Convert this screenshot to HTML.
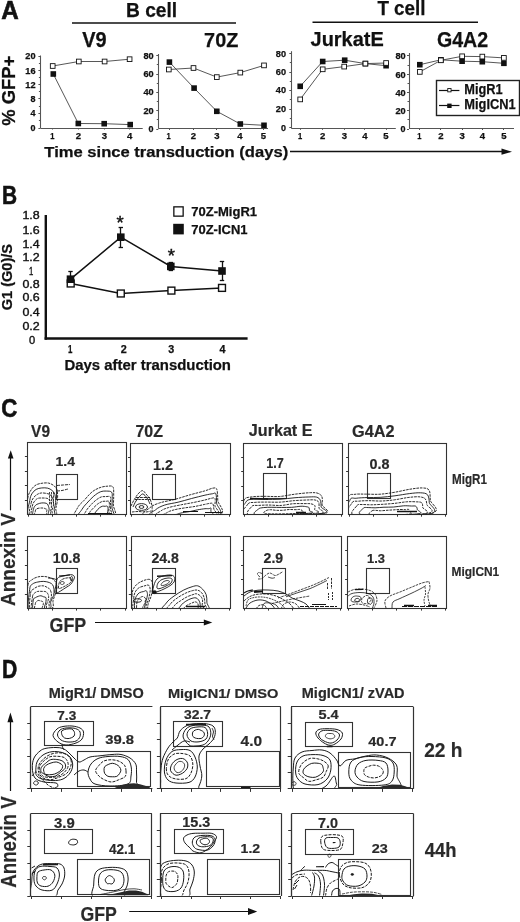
<!DOCTYPE html>
<html><head><meta charset="utf-8"><style>
html,body{margin:0;padding:0;background:#fff;}
svg{display:block;filter:blur(0.3px);}
text{font-family:"Liberation Sans",sans-serif;}
</style></head><body>
<svg width="520" height="922" viewBox="0 0 520 922">
<rect width="520" height="922" fill="#fff"/>
<text x="1.30" y="19.30" font-size="25.00" font-weight="bold" fill="#111" textLength="17.50" lengthAdjust="spacingAndGlyphs" stroke="#111" stroke-width="0.6">A</text>
<text x="126.00" y="16.80" font-size="20.49" font-weight="bold" fill="#111" textLength="51.20" lengthAdjust="spacingAndGlyphs" stroke="#111" stroke-width="0.25">B cell</text>
<line x1="72.00" y1="23.00" x2="236.00" y2="23.00" stroke="#111" stroke-width="1.6"/>
<text x="377.40" y="14.80" font-size="20.35" font-weight="bold" fill="#111" textLength="48.09" lengthAdjust="spacingAndGlyphs" stroke="#111" stroke-width="0.25">T cell</text>
<line x1="312.50" y1="22.30" x2="478.00" y2="22.30" stroke="#111" stroke-width="1.6"/>
<text x="82.20" y="46.80" font-size="21.22" font-weight="bold" fill="#111" textLength="24.40" lengthAdjust="spacingAndGlyphs" stroke="#111" stroke-width="0.25">V9</text>
<text x="204.10" y="46.60" font-size="20.77" font-weight="bold" fill="#111" textLength="34.20" lengthAdjust="spacingAndGlyphs" stroke="#111" stroke-width="0.25">70Z</text>
<text x="310.60" y="46.30" font-size="21.08" font-weight="bold" fill="#111" textLength="73.11" lengthAdjust="spacingAndGlyphs" stroke="#111" stroke-width="0.25">JurkatE</text>
<text x="436.90" y="46.50" font-size="21.51" font-weight="bold" fill="#111" textLength="51.21" lengthAdjust="spacingAndGlyphs" stroke="#111" stroke-width="0.25">G4A2</text>
<text transform="translate(14.60,125.80) rotate(-90)" x="-0.00" y="0" font-size="18.02" font-weight="bold" fill="#111" textLength="69.99" lengthAdjust="spacingAndGlyphs" stroke="#111" stroke-width="0.25">% GFP+</text>
<line x1="40.50" y1="55.50" x2="40.50" y2="128.00" stroke="#555" stroke-width="1.1"/>
<line x1="40.40" y1="128.50" x2="142.70" y2="128.50" stroke="#555" stroke-width="1.2"/>
<line x1="38.40" y1="56.50" x2="40.40" y2="56.50" stroke="#555" stroke-width="1"/>
<text x="25.30" y="59.45" font-size="8.74" font-weight="bold" fill="#111" textLength="10.20" lengthAdjust="spacingAndGlyphs" stroke="#111" stroke-width="0.25">20</text>
<line x1="38.90" y1="63.50" x2="40.40" y2="63.50" stroke="#555" stroke-width="1"/>
<line x1="38.40" y1="70.50" x2="40.40" y2="70.50" stroke="#555" stroke-width="1"/>
<text x="25.30" y="73.55" font-size="8.74" font-weight="bold" fill="#111" textLength="10.20" lengthAdjust="spacingAndGlyphs" stroke="#111" stroke-width="0.25">16</text>
<line x1="38.90" y1="77.50" x2="40.40" y2="77.50" stroke="#555" stroke-width="1"/>
<line x1="38.40" y1="84.50" x2="40.40" y2="84.50" stroke="#555" stroke-width="1"/>
<text x="25.30" y="87.65" font-size="8.74" font-weight="bold" fill="#111" textLength="10.20" lengthAdjust="spacingAndGlyphs" stroke="#111" stroke-width="0.25">12</text>
<line x1="38.90" y1="91.50" x2="40.40" y2="91.50" stroke="#555" stroke-width="1"/>
<line x1="38.40" y1="98.50" x2="40.40" y2="98.50" stroke="#555" stroke-width="1"/>
<text x="30.50" y="101.75" font-size="8.74" font-weight="bold" fill="#111" textLength="5.00" lengthAdjust="spacingAndGlyphs" stroke="#111" stroke-width="0.25">8</text>
<line x1="38.90" y1="106.50" x2="40.40" y2="106.50" stroke="#555" stroke-width="1"/>
<line x1="38.40" y1="113.50" x2="40.40" y2="113.50" stroke="#555" stroke-width="1"/>
<text x="30.50" y="116.35" font-size="8.74" font-weight="bold" fill="#111" textLength="5.00" lengthAdjust="spacingAndGlyphs" stroke="#111" stroke-width="0.25">4</text>
<line x1="38.90" y1="120.50" x2="40.40" y2="120.50" stroke="#555" stroke-width="1"/>
<line x1="38.40" y1="128.50" x2="40.40" y2="128.50" stroke="#555" stroke-width="1"/>
<text x="30.50" y="131.05" font-size="8.74" font-weight="bold" fill="#111" textLength="5.00" lengthAdjust="spacingAndGlyphs" stroke="#111" stroke-width="0.25">0</text>
<line x1="52.50" y1="128.00" x2="52.50" y2="129.50" stroke="#555" stroke-width="1"/>
<text x="50.20" y="139.20" font-size="8.74" font-weight="bold" fill="#111" textLength="4.20" lengthAdjust="spacingAndGlyphs" stroke="#111" stroke-width="0.25">1</text>
<line x1="78.50" y1="128.00" x2="78.50" y2="129.50" stroke="#555" stroke-width="1"/>
<text x="75.85" y="139.20" font-size="8.74" font-weight="bold" fill="#111" textLength="5.30" lengthAdjust="spacingAndGlyphs" stroke="#111" stroke-width="0.25">2</text>
<line x1="104.50" y1="128.00" x2="104.50" y2="129.50" stroke="#555" stroke-width="1"/>
<text x="101.75" y="139.20" font-size="8.74" font-weight="bold" fill="#111" textLength="5.30" lengthAdjust="spacingAndGlyphs" stroke="#111" stroke-width="0.25">3</text>
<line x1="129.50" y1="128.00" x2="129.50" y2="129.50" stroke="#555" stroke-width="1"/>
<text x="127.05" y="139.20" font-size="8.74" font-weight="bold" fill="#111" textLength="5.30" lengthAdjust="spacingAndGlyphs" stroke="#111" stroke-width="0.25">4</text>
<polyline points="52.70,66.00 78.80,61.50 104.60,61.50 129.60,59.20" fill="none" stroke="#444" stroke-width="0.9"/>
<polyline points="53.30,74.00 78.30,123.50 104.20,123.70 130.20,124.60" fill="none" stroke="#444" stroke-width="0.9"/>
<rect x="50.50" y="71.20" width="5.60" height="5.60" fill="#111"/>
<rect x="75.50" y="120.70" width="5.60" height="5.60" fill="#111"/>
<rect x="101.40" y="120.90" width="5.60" height="5.60" fill="#111"/>
<rect x="127.40" y="121.80" width="5.60" height="5.60" fill="#111"/>
<rect x="50.35" y="63.65" width="4.70" height="4.70" fill="#fff" stroke="#111" stroke-width="0.9"/>
<rect x="76.45" y="59.15" width="4.70" height="4.70" fill="#fff" stroke="#111" stroke-width="0.9"/>
<rect x="102.25" y="59.15" width="4.70" height="4.70" fill="#fff" stroke="#111" stroke-width="0.9"/>
<rect x="127.25" y="56.85" width="4.70" height="4.70" fill="#fff" stroke="#111" stroke-width="0.9"/>
<line x1="158.50" y1="54.00" x2="158.50" y2="128.50" stroke="#555" stroke-width="1.1"/>
<line x1="158.30" y1="128.50" x2="268.00" y2="128.50" stroke="#555" stroke-width="1.2"/>
<line x1="156.30" y1="55.50" x2="158.30" y2="55.50" stroke="#555" stroke-width="1"/>
<text x="143.40" y="58.85" font-size="8.74" font-weight="bold" fill="#111" textLength="10.20" lengthAdjust="spacingAndGlyphs" stroke="#111" stroke-width="0.25">80</text>
<line x1="156.80" y1="64.50" x2="158.30" y2="64.50" stroke="#555" stroke-width="1"/>
<line x1="156.30" y1="74.50" x2="158.30" y2="74.50" stroke="#555" stroke-width="1"/>
<text x="143.40" y="77.15" font-size="8.74" font-weight="bold" fill="#111" textLength="10.20" lengthAdjust="spacingAndGlyphs" stroke="#111" stroke-width="0.25">60</text>
<line x1="156.80" y1="83.50" x2="158.30" y2="83.50" stroke="#555" stroke-width="1"/>
<line x1="156.30" y1="92.50" x2="158.30" y2="92.50" stroke="#555" stroke-width="1"/>
<text x="143.40" y="95.45" font-size="8.74" font-weight="bold" fill="#111" textLength="10.20" lengthAdjust="spacingAndGlyphs" stroke="#111" stroke-width="0.25">40</text>
<line x1="156.80" y1="101.50" x2="158.30" y2="101.50" stroke="#555" stroke-width="1"/>
<line x1="156.30" y1="110.50" x2="158.30" y2="110.50" stroke="#555" stroke-width="1"/>
<text x="143.40" y="113.75" font-size="8.74" font-weight="bold" fill="#111" textLength="10.20" lengthAdjust="spacingAndGlyphs" stroke="#111" stroke-width="0.25">20</text>
<line x1="156.80" y1="119.50" x2="158.30" y2="119.50" stroke="#555" stroke-width="1"/>
<line x1="156.30" y1="129.50" x2="158.30" y2="129.50" stroke="#555" stroke-width="1"/>
<text x="148.60" y="132.05" font-size="8.74" font-weight="bold" fill="#111" textLength="5.00" lengthAdjust="spacingAndGlyphs" stroke="#111" stroke-width="0.25">0</text>
<line x1="169.50" y1="128.50" x2="169.50" y2="130.00" stroke="#555" stroke-width="1"/>
<text x="166.50" y="138.80" font-size="9.03" font-weight="bold" fill="#111" textLength="4.20" lengthAdjust="spacingAndGlyphs" stroke="#111" stroke-width="0.25">1</text>
<line x1="193.50" y1="128.50" x2="193.50" y2="130.00" stroke="#555" stroke-width="1"/>
<text x="190.85" y="138.80" font-size="9.03" font-weight="bold" fill="#111" textLength="5.30" lengthAdjust="spacingAndGlyphs" stroke="#111" stroke-width="0.25">2</text>
<line x1="216.50" y1="128.50" x2="216.50" y2="130.00" stroke="#555" stroke-width="1"/>
<text x="214.15" y="138.80" font-size="9.03" font-weight="bold" fill="#111" textLength="5.30" lengthAdjust="spacingAndGlyphs" stroke="#111" stroke-width="0.25">3</text>
<line x1="240.50" y1="128.50" x2="240.50" y2="130.00" stroke="#555" stroke-width="1"/>
<text x="237.35" y="138.80" font-size="9.03" font-weight="bold" fill="#111" textLength="5.30" lengthAdjust="spacingAndGlyphs" stroke="#111" stroke-width="0.25">4</text>
<line x1="263.50" y1="128.50" x2="263.50" y2="130.00" stroke="#555" stroke-width="1"/>
<text x="260.85" y="138.80" font-size="9.03" font-weight="bold" fill="#111" textLength="5.30" lengthAdjust="spacingAndGlyphs" stroke="#111" stroke-width="0.25">5</text>
<polyline points="168.80,69.50 193.50,68.00 216.80,77.10 240.30,72.60 264.00,65.40" fill="none" stroke="#444" stroke-width="0.9"/>
<polyline points="169.40,62.10 194.10,88.10 216.80,111.30 240.30,124.00 264.00,125.30" fill="none" stroke="#444" stroke-width="0.9"/>
<rect x="166.60" y="59.30" width="5.60" height="5.60" fill="#111"/>
<rect x="191.30" y="85.30" width="5.60" height="5.60" fill="#111"/>
<rect x="214.00" y="108.50" width="5.60" height="5.60" fill="#111"/>
<rect x="237.50" y="121.20" width="5.60" height="5.60" fill="#111"/>
<rect x="261.20" y="122.50" width="5.60" height="5.60" fill="#111"/>
<rect x="166.45" y="67.15" width="4.70" height="4.70" fill="#fff" stroke="#111" stroke-width="0.9"/>
<rect x="191.15" y="65.65" width="4.70" height="4.70" fill="#fff" stroke="#111" stroke-width="0.9"/>
<rect x="214.45" y="74.75" width="4.70" height="4.70" fill="#fff" stroke="#111" stroke-width="0.9"/>
<rect x="237.95" y="70.25" width="4.70" height="4.70" fill="#fff" stroke="#111" stroke-width="0.9"/>
<rect x="261.65" y="63.05" width="4.70" height="4.70" fill="#fff" stroke="#111" stroke-width="0.9"/>
<line x1="291.50" y1="51.20" x2="291.50" y2="128.30" stroke="#555" stroke-width="1.1"/>
<line x1="291.30" y1="128.50" x2="395.80" y2="128.50" stroke="#555" stroke-width="1.2"/>
<line x1="289.30" y1="53.50" x2="291.30" y2="53.50" stroke="#555" stroke-width="1"/>
<text x="275.80" y="56.55" font-size="8.74" font-weight="bold" fill="#111" textLength="10.20" lengthAdjust="spacingAndGlyphs" stroke="#111" stroke-width="0.25">80</text>
<line x1="289.80" y1="62.50" x2="291.30" y2="62.50" stroke="#555" stroke-width="1"/>
<line x1="289.30" y1="72.50" x2="291.30" y2="72.50" stroke="#555" stroke-width="1"/>
<text x="275.80" y="75.05" font-size="8.74" font-weight="bold" fill="#111" textLength="10.20" lengthAdjust="spacingAndGlyphs" stroke="#111" stroke-width="0.25">60</text>
<line x1="289.80" y1="81.50" x2="291.30" y2="81.50" stroke="#555" stroke-width="1"/>
<line x1="289.30" y1="90.50" x2="291.30" y2="90.50" stroke="#555" stroke-width="1"/>
<text x="275.80" y="93.45" font-size="8.74" font-weight="bold" fill="#111" textLength="10.20" lengthAdjust="spacingAndGlyphs" stroke="#111" stroke-width="0.25">40</text>
<line x1="289.80" y1="99.50" x2="291.30" y2="99.50" stroke="#555" stroke-width="1"/>
<line x1="289.30" y1="109.50" x2="291.30" y2="109.50" stroke="#555" stroke-width="1"/>
<text x="275.80" y="112.45" font-size="8.74" font-weight="bold" fill="#111" textLength="10.20" lengthAdjust="spacingAndGlyphs" stroke="#111" stroke-width="0.25">20</text>
<line x1="289.80" y1="118.50" x2="291.30" y2="118.50" stroke="#555" stroke-width="1"/>
<line x1="289.30" y1="127.50" x2="291.30" y2="127.50" stroke="#555" stroke-width="1"/>
<text x="281.00" y="130.85" font-size="8.74" font-weight="bold" fill="#111" textLength="5.00" lengthAdjust="spacingAndGlyphs" stroke="#111" stroke-width="0.25">0</text>
<line x1="300.50" y1="128.30" x2="300.50" y2="129.80" stroke="#555" stroke-width="1"/>
<text x="298.10" y="139.20" font-size="8.74" font-weight="bold" fill="#111" textLength="4.20" lengthAdjust="spacingAndGlyphs" stroke="#111" stroke-width="0.25">1</text>
<line x1="322.50" y1="128.30" x2="322.50" y2="129.80" stroke="#555" stroke-width="1"/>
<text x="319.95" y="139.20" font-size="8.74" font-weight="bold" fill="#111" textLength="5.30" lengthAdjust="spacingAndGlyphs" stroke="#111" stroke-width="0.25">2</text>
<line x1="344.50" y1="128.30" x2="344.50" y2="129.80" stroke="#555" stroke-width="1"/>
<text x="341.75" y="139.20" font-size="8.74" font-weight="bold" fill="#111" textLength="5.30" lengthAdjust="spacingAndGlyphs" stroke="#111" stroke-width="0.25">3</text>
<line x1="364.50" y1="128.30" x2="364.50" y2="129.80" stroke="#555" stroke-width="1"/>
<text x="362.25" y="139.20" font-size="8.74" font-weight="bold" fill="#111" textLength="5.30" lengthAdjust="spacingAndGlyphs" stroke="#111" stroke-width="0.25">4</text>
<line x1="386.50" y1="128.30" x2="386.50" y2="129.80" stroke="#555" stroke-width="1"/>
<text x="383.35" y="139.20" font-size="8.74" font-weight="bold" fill="#111" textLength="5.30" lengthAdjust="spacingAndGlyphs" stroke="#111" stroke-width="0.25">5</text>
<polyline points="300.20,99.40 322.70,69.30 344.20,66.60 365.40,63.60 386.10,63.00" fill="none" stroke="#444" stroke-width="0.9"/>
<polyline points="300.20,86.30 322.70,61.50 344.70,60.20 365.40,63.60 386.10,65.70" fill="none" stroke="#444" stroke-width="0.9"/>
<rect x="297.40" y="83.50" width="5.60" height="5.60" fill="#111"/>
<rect x="319.90" y="58.70" width="5.60" height="5.60" fill="#111"/>
<rect x="341.90" y="57.40" width="5.60" height="5.60" fill="#111"/>
<rect x="362.60" y="60.80" width="5.60" height="5.60" fill="#111"/>
<rect x="383.30" y="62.90" width="5.60" height="5.60" fill="#111"/>
<rect x="297.85" y="97.05" width="4.70" height="4.70" fill="#fff" stroke="#111" stroke-width="0.9"/>
<rect x="320.35" y="66.95" width="4.70" height="4.70" fill="#fff" stroke="#111" stroke-width="0.9"/>
<rect x="341.85" y="64.25" width="4.70" height="4.70" fill="#fff" stroke="#111" stroke-width="0.9"/>
<rect x="363.05" y="61.25" width="4.70" height="4.70" fill="#fff" stroke="#111" stroke-width="0.9"/>
<rect x="383.75" y="60.65" width="4.70" height="4.70" fill="#fff" stroke="#111" stroke-width="0.9"/>
<line x1="409.50" y1="53.00" x2="409.50" y2="128.50" stroke="#555" stroke-width="1.1"/>
<line x1="409.00" y1="128.50" x2="514.00" y2="128.50" stroke="#555" stroke-width="1.2"/>
<line x1="407.00" y1="55.50" x2="409.00" y2="55.50" stroke="#555" stroke-width="1"/>
<text x="395.40" y="58.85" font-size="8.74" font-weight="bold" fill="#111" textLength="10.20" lengthAdjust="spacingAndGlyphs" stroke="#111" stroke-width="0.25">80</text>
<line x1="407.50" y1="65.50" x2="409.00" y2="65.50" stroke="#555" stroke-width="1"/>
<line x1="407.00" y1="74.50" x2="409.00" y2="74.50" stroke="#555" stroke-width="1"/>
<text x="395.40" y="77.65" font-size="8.74" font-weight="bold" fill="#111" textLength="10.20" lengthAdjust="spacingAndGlyphs" stroke="#111" stroke-width="0.25">60</text>
<line x1="407.50" y1="83.50" x2="409.00" y2="83.50" stroke="#555" stroke-width="1"/>
<line x1="407.00" y1="92.50" x2="409.00" y2="92.50" stroke="#555" stroke-width="1"/>
<text x="395.40" y="95.65" font-size="8.74" font-weight="bold" fill="#111" textLength="10.20" lengthAdjust="spacingAndGlyphs" stroke="#111" stroke-width="0.25">40</text>
<line x1="407.50" y1="101.50" x2="409.00" y2="101.50" stroke="#555" stroke-width="1"/>
<line x1="407.00" y1="110.50" x2="409.00" y2="110.50" stroke="#555" stroke-width="1"/>
<text x="395.40" y="113.65" font-size="8.74" font-weight="bold" fill="#111" textLength="10.20" lengthAdjust="spacingAndGlyphs" stroke="#111" stroke-width="0.25">20</text>
<line x1="407.50" y1="119.50" x2="409.00" y2="119.50" stroke="#555" stroke-width="1"/>
<line x1="407.00" y1="129.50" x2="409.00" y2="129.50" stroke="#555" stroke-width="1"/>
<text x="400.60" y="132.05" font-size="8.74" font-weight="bold" fill="#111" textLength="5.00" lengthAdjust="spacingAndGlyphs" stroke="#111" stroke-width="0.25">0</text>
<line x1="419.50" y1="128.50" x2="419.50" y2="130.00" stroke="#555" stroke-width="1"/>
<text x="417.30" y="138.80" font-size="8.74" font-weight="bold" fill="#111" textLength="4.20" lengthAdjust="spacingAndGlyphs" stroke="#111" stroke-width="0.25">1</text>
<line x1="440.50" y1="128.50" x2="440.50" y2="130.00" stroke="#555" stroke-width="1"/>
<text x="438.25" y="138.80" font-size="8.74" font-weight="bold" fill="#111" textLength="5.30" lengthAdjust="spacingAndGlyphs" stroke="#111" stroke-width="0.25">2</text>
<line x1="462.50" y1="128.50" x2="462.50" y2="130.00" stroke="#555" stroke-width="1"/>
<text x="459.45" y="138.80" font-size="8.74" font-weight="bold" fill="#111" textLength="5.30" lengthAdjust="spacingAndGlyphs" stroke="#111" stroke-width="0.25">3</text>
<line x1="482.50" y1="128.50" x2="482.50" y2="130.00" stroke="#555" stroke-width="1"/>
<text x="479.65" y="138.80" font-size="8.74" font-weight="bold" fill="#111" textLength="5.30" lengthAdjust="spacingAndGlyphs" stroke="#111" stroke-width="0.25">4</text>
<line x1="503.50" y1="128.50" x2="503.50" y2="130.00" stroke="#555" stroke-width="1"/>
<text x="501.25" y="138.80" font-size="8.74" font-weight="bold" fill="#111" textLength="5.30" lengthAdjust="spacingAndGlyphs" stroke="#111" stroke-width="0.25">5</text>
<polyline points="419.80,71.90 440.90,60.30 462.10,56.30 482.30,56.60 503.90,57.90" fill="none" stroke="#444" stroke-width="0.9"/>
<polyline points="419.80,64.70 440.90,59.80 462.10,61.20 482.30,61.70 503.90,63.30" fill="none" stroke="#444" stroke-width="0.9"/>
<rect x="417.00" y="61.90" width="5.60" height="5.60" fill="#111"/>
<rect x="438.10" y="57.00" width="5.60" height="5.60" fill="#111"/>
<rect x="459.30" y="58.40" width="5.60" height="5.60" fill="#111"/>
<rect x="479.50" y="58.90" width="5.60" height="5.60" fill="#111"/>
<rect x="501.10" y="60.50" width="5.60" height="5.60" fill="#111"/>
<rect x="417.45" y="69.55" width="4.70" height="4.70" fill="#fff" stroke="#111" stroke-width="0.9"/>
<rect x="438.55" y="57.95" width="4.70" height="4.70" fill="#fff" stroke="#111" stroke-width="0.9"/>
<rect x="459.75" y="53.95" width="4.70" height="4.70" fill="#fff" stroke="#111" stroke-width="0.9"/>
<rect x="479.95" y="54.25" width="4.70" height="4.70" fill="#fff" stroke="#111" stroke-width="0.9"/>
<rect x="501.55" y="55.55" width="4.70" height="4.70" fill="#fff" stroke="#111" stroke-width="0.9"/>
<rect x="436.50" y="80.50" width="83.00" height="35.00" stroke="#222" stroke-width="1.4" fill="none"/>
<line x1="439.00" y1="90.50" x2="459.40" y2="90.50" stroke="#111" stroke-width="1.2"/>
<rect x="447.75" y="88.55" width="3.30" height="3.30" fill="#fff" stroke="#111" stroke-width="0.9"/>
<line x1="439.00" y1="105.50" x2="459.40" y2="105.50" stroke="#111" stroke-width="1.2"/>
<rect x="447.20" y="103.60" width="4.40" height="4.40" fill="#111"/>
<text x="464.30" y="93.70" font-size="15.12" font-weight="bold" fill="#111" textLength="38.40" lengthAdjust="spacingAndGlyphs" stroke="#111" stroke-width="0.25">MigR1</text>
<text x="464.30" y="109.30" font-size="15.12" font-weight="bold" fill="#111" textLength="51.40" lengthAdjust="spacingAndGlyphs" stroke="#111" stroke-width="0.25">MigICN1</text>
<text x="44.30" y="157.30" font-size="15.55" font-weight="bold" fill="#111" textLength="243.89" lengthAdjust="spacingAndGlyphs" stroke="#111" stroke-width="0.25">Time since transduction (days)</text>
<line x1="290.00" y1="151.50" x2="502.50" y2="151.50" stroke="#111" stroke-width="1.3"/>
<polygon points="501.50,148.60 512.00,151.70 501.50,154.80" fill="#111"/>
<text x="2.00" y="203.60" font-size="26.60" font-weight="bold" fill="#111" textLength="15.10" lengthAdjust="spacingAndGlyphs" stroke="#111" stroke-width="0.6">B</text>
<text transform="translate(12.20,310.30) rotate(-90)" x="-0.00" y="0" font-size="14.68" font-weight="bold" fill="#111" textLength="66.39" lengthAdjust="spacingAndGlyphs" stroke="#111" stroke-width="0.25">G1 (G0)/S</text>
<line x1="45.80" y1="215.00" x2="45.80" y2="339.70" stroke="#111" stroke-width="2.4"/>
<line x1="44.60" y1="338.50" x2="247.60" y2="338.50" stroke="#111" stroke-width="2.4"/>
<text x="22.40" y="218.80" font-size="10.32" font-weight="normal" fill="#111" textLength="17.30" lengthAdjust="spacingAndGlyphs" stroke="#111" stroke-width="0.35">1.8</text>
<text x="22.40" y="234.30" font-size="10.32" font-weight="normal" fill="#111" textLength="17.30" lengthAdjust="spacingAndGlyphs" stroke="#111" stroke-width="0.35">1.6</text>
<text x="22.40" y="247.65" font-size="10.32" font-weight="normal" fill="#111" textLength="17.30" lengthAdjust="spacingAndGlyphs" stroke="#111" stroke-width="0.35">1.4</text>
<text x="22.40" y="260.95" font-size="10.32" font-weight="normal" fill="#111" textLength="17.30" lengthAdjust="spacingAndGlyphs" stroke="#111" stroke-width="0.35">1.2</text>
<text x="29.00" y="275.35" font-size="10.32" font-weight="normal" fill="#111" textLength="4.30" lengthAdjust="spacingAndGlyphs" stroke="#111" stroke-width="0.35">1</text>
<text x="22.40" y="288.35" font-size="10.32" font-weight="normal" fill="#111" textLength="17.30" lengthAdjust="spacingAndGlyphs" stroke="#111" stroke-width="0.35">0.8</text>
<text x="22.40" y="301.25" font-size="10.32" font-weight="normal" fill="#111" textLength="17.30" lengthAdjust="spacingAndGlyphs" stroke="#111" stroke-width="0.35">0.6</text>
<text x="22.40" y="315.95" font-size="10.32" font-weight="normal" fill="#111" textLength="17.30" lengthAdjust="spacingAndGlyphs" stroke="#111" stroke-width="0.35">0.4</text>
<text x="22.40" y="329.95" font-size="10.32" font-weight="normal" fill="#111" textLength="17.30" lengthAdjust="spacingAndGlyphs" stroke="#111" stroke-width="0.35">0.2</text>
<text x="28.90" y="343.95" font-size="10.32" font-weight="normal" fill="#111" textLength="6.20" lengthAdjust="spacingAndGlyphs" stroke="#111" stroke-width="0.35">0</text>
<text x="68.10" y="352.80" font-size="10.32" font-weight="bold" fill="#111" textLength="4.40" lengthAdjust="spacingAndGlyphs" stroke="#111" stroke-width="0.25">1</text>
<text x="120.80" y="352.80" font-size="10.32" font-weight="bold" fill="#111" textLength="6.00" lengthAdjust="spacingAndGlyphs" stroke="#111" stroke-width="0.25">2</text>
<text x="168.20" y="352.80" font-size="10.32" font-weight="bold" fill="#111" textLength="6.00" lengthAdjust="spacingAndGlyphs" stroke="#111" stroke-width="0.25">3</text>
<text x="219.60" y="352.80" font-size="10.32" font-weight="bold" fill="#111" textLength="6.00" lengthAdjust="spacingAndGlyphs" stroke="#111" stroke-width="0.25">4</text>
<text x="64.50" y="370.30" font-size="14.97" font-weight="bold" fill="#111" textLength="166.49" lengthAdjust="spacingAndGlyphs" stroke="#111" stroke-width="0.25">Days after transduction</text>
<polyline points="70.70,283.50 120.80,293.50 171.40,290.60 222.00,287.90" fill="none" stroke="#111" stroke-width="1.5"/>
<polyline points="70.50,279.20 120.80,237.20 170.80,266.40 222.00,271.00" fill="none" stroke="#111" stroke-width="1.5"/>
<line x1="70.50" y1="271.60" x2="70.50" y2="279.00" stroke="#111" stroke-width="1.3"/>
<line x1="68.30" y1="271.50" x2="72.70" y2="271.50" stroke="#111" stroke-width="1.3"/>
<line x1="68.30" y1="279.50" x2="72.70" y2="279.50" stroke="#111" stroke-width="1.3"/>
<line x1="120.50" y1="227.00" x2="120.50" y2="247.40" stroke="#111" stroke-width="1.3"/>
<line x1="118.60" y1="227.50" x2="123.00" y2="227.50" stroke="#111" stroke-width="1.3"/>
<line x1="118.60" y1="247.50" x2="123.00" y2="247.50" stroke="#111" stroke-width="1.3"/>
<line x1="222.50" y1="261.50" x2="222.50" y2="280.40" stroke="#111" stroke-width="1.3"/>
<line x1="219.80" y1="261.50" x2="224.20" y2="261.50" stroke="#111" stroke-width="1.3"/>
<line x1="219.80" y1="280.50" x2="224.20" y2="280.50" stroke="#111" stroke-width="1.3"/>
<line x1="170.50" y1="262.60" x2="170.50" y2="270.20" stroke="#111" stroke-width="1.3"/>
<line x1="168.60" y1="262.50" x2="173.00" y2="262.50" stroke="#111" stroke-width="1.3"/>
<line x1="168.60" y1="270.50" x2="173.00" y2="270.50" stroke="#111" stroke-width="1.3"/>
<rect x="67.25" y="280.05" width="6.90" height="6.90" fill="#fff" stroke="#111" stroke-width="1.4"/>
<rect x="117.35" y="290.05" width="6.90" height="6.90" fill="#fff" stroke="#111" stroke-width="1.4"/>
<rect x="167.95" y="287.15" width="6.90" height="6.90" fill="#fff" stroke="#111" stroke-width="1.4"/>
<rect x="218.55" y="284.45" width="6.90" height="6.90" fill="#fff" stroke="#111" stroke-width="1.4"/>
<rect x="66.70" y="275.40" width="7.60" height="7.60" fill="#111"/>
<rect x="117.00" y="233.40" width="7.60" height="7.60" fill="#111"/>
<rect x="167.00" y="262.60" width="7.60" height="7.60" fill="#111"/>
<rect x="218.20" y="267.20" width="7.60" height="7.60" fill="#111"/>
<text x="116.60" y="229.00" font-size="18.46" font-weight="normal" fill="#111" textLength="7.20" lengthAdjust="spacingAndGlyphs" stroke="#111" stroke-width="0.45">*</text>
<text x="167.80" y="262.20" font-size="18.46" font-weight="normal" fill="#111" textLength="7.20" lengthAdjust="spacingAndGlyphs" stroke="#111" stroke-width="0.45">*</text>
<rect x="173.85" y="206.85" width="9.30" height="9.30" fill="#fff" stroke="#111" stroke-width="1.3"/>
<rect x="173.20" y="223.80" width="10.60" height="10.60" fill="#111"/>
<text x="191.20" y="215.80" font-size="12.75" font-weight="bold" fill="#111" textLength="65.90" lengthAdjust="spacingAndGlyphs" stroke="#111" stroke-width="0.25">70Z-MigR1</text>
<text x="191.20" y="234.40" font-size="12.61" font-weight="bold" fill="#111" textLength="56.29" lengthAdjust="spacingAndGlyphs" stroke="#111" stroke-width="0.25">70Z-ICN1</text>
<text x="1.20" y="416.80" font-size="25.58" font-weight="bold" fill="#111" textLength="16.10" lengthAdjust="spacingAndGlyphs" stroke="#111" stroke-width="0.6">C</text>
<text x="31.10" y="436.50" font-size="16.28" font-weight="bold" fill="#2a2a2a" textLength="18.90" lengthAdjust="spacingAndGlyphs" stroke="#2a2a2a" stroke-width="0.2">V9</text>
<text x="135.50" y="436.60" font-size="15.90" font-weight="bold" fill="#2a2a2a" textLength="27.50" lengthAdjust="spacingAndGlyphs" stroke="#2a2a2a" stroke-width="0.2">70Z</text>
<text x="248.80" y="436.30" font-size="15.70" font-weight="bold" fill="#2a2a2a" textLength="63.71" lengthAdjust="spacingAndGlyphs" stroke="#2a2a2a" stroke-width="0.2">Jurkat E</text>
<text x="352.00" y="436.60" font-size="16.13" font-weight="bold" fill="#2a2a2a" textLength="42.51" lengthAdjust="spacingAndGlyphs" stroke="#2a2a2a" stroke-width="0.2">G4A2</text>
<text x="452.00" y="484.20" font-size="13.95" font-weight="bold" fill="#2a2a2a" textLength="34.90" lengthAdjust="spacingAndGlyphs" stroke="#2a2a2a" stroke-width="0.2">MigR1</text>
<text x="451.60" y="576.30" font-size="13.08" font-weight="bold" fill="#2a2a2a" textLength="47.60" lengthAdjust="spacingAndGlyphs" stroke="#2a2a2a" stroke-width="0.2">MigICN1</text>
<rect x="27.50" y="442.50" width="99.00" height="72.00" stroke="#333" stroke-width="1.1" fill="none"/>
<line x1="24.90" y1="500.50" x2="27.40" y2="500.50" stroke="#333" stroke-width="1"/>
<line x1="24.90" y1="485.50" x2="27.40" y2="485.50" stroke="#333" stroke-width="1"/>
<line x1="24.90" y1="471.50" x2="27.40" y2="471.50" stroke="#333" stroke-width="1"/>
<line x1="24.90" y1="456.50" x2="27.40" y2="456.50" stroke="#333" stroke-width="1"/>
<line x1="28.50" y1="514.70" x2="28.50" y2="516.70" stroke="#333" stroke-width="1"/>
<line x1="52.50" y1="514.70" x2="52.50" y2="516.70" stroke="#333" stroke-width="1"/>
<line x1="76.50" y1="514.70" x2="76.50" y2="516.70" stroke="#333" stroke-width="1"/>
<line x1="100.50" y1="514.70" x2="100.50" y2="516.70" stroke="#333" stroke-width="1"/>
<line x1="125.50" y1="514.70" x2="125.50" y2="516.70" stroke="#333" stroke-width="1"/>
<rect x="56.50" y="474.50" width="21.00" height="25.00" stroke="#333" stroke-width="1.1" fill="none"/>
<text x="55.50" y="466.30" font-size="13.32" font-weight="bold" fill="#2a2a2a" textLength="19.50" lengthAdjust="spacingAndGlyphs" stroke="#2a2a2a" stroke-width="0.2">1.4</text>
<rect x="130.50" y="443.50" width="100.00" height="71.00" stroke="#333" stroke-width="1.1" fill="none"/>
<line x1="128.00" y1="500.50" x2="130.50" y2="500.50" stroke="#333" stroke-width="1"/>
<line x1="128.00" y1="486.50" x2="130.50" y2="486.50" stroke="#333" stroke-width="1"/>
<line x1="128.00" y1="471.50" x2="130.50" y2="471.50" stroke="#333" stroke-width="1"/>
<line x1="128.00" y1="457.50" x2="130.50" y2="457.50" stroke="#333" stroke-width="1"/>
<line x1="131.50" y1="514.70" x2="131.50" y2="516.70" stroke="#333" stroke-width="1"/>
<line x1="155.50" y1="514.70" x2="155.50" y2="516.70" stroke="#333" stroke-width="1"/>
<line x1="180.50" y1="514.70" x2="180.50" y2="516.70" stroke="#333" stroke-width="1"/>
<line x1="204.50" y1="514.70" x2="204.50" y2="516.70" stroke="#333" stroke-width="1"/>
<line x1="229.50" y1="514.70" x2="229.50" y2="516.70" stroke="#333" stroke-width="1"/>
<rect x="152.50" y="474.50" width="23.00" height="25.00" stroke="#333" stroke-width="1.1" fill="none"/>
<text x="153.00" y="470.00" font-size="14.33" font-weight="bold" fill="#2a2a2a" textLength="20.00" lengthAdjust="spacingAndGlyphs" stroke="#2a2a2a" stroke-width="0.2">1.2</text>
<rect x="243.50" y="443.50" width="99.00" height="71.00" stroke="#333" stroke-width="1.1" fill="none"/>
<line x1="241.20" y1="500.50" x2="243.70" y2="500.50" stroke="#333" stroke-width="1"/>
<line x1="241.20" y1="486.50" x2="243.70" y2="486.50" stroke="#333" stroke-width="1"/>
<line x1="241.20" y1="471.50" x2="243.70" y2="471.50" stroke="#333" stroke-width="1"/>
<line x1="241.20" y1="457.50" x2="243.70" y2="457.50" stroke="#333" stroke-width="1"/>
<line x1="244.50" y1="514.70" x2="244.50" y2="516.70" stroke="#333" stroke-width="1"/>
<line x1="268.50" y1="514.70" x2="268.50" y2="516.70" stroke="#333" stroke-width="1"/>
<line x1="292.50" y1="514.70" x2="292.50" y2="516.70" stroke="#333" stroke-width="1"/>
<line x1="316.50" y1="514.70" x2="316.50" y2="516.70" stroke="#333" stroke-width="1"/>
<line x1="341.50" y1="514.70" x2="341.50" y2="516.70" stroke="#333" stroke-width="1"/>
<rect x="263.50" y="473.50" width="23.00" height="25.00" stroke="#333" stroke-width="1.1" fill="none"/>
<text x="266.30" y="468.30" font-size="14.76" font-weight="bold" fill="#2a2a2a" textLength="17.50" lengthAdjust="spacingAndGlyphs" stroke="#2a2a2a" stroke-width="0.2">1.7</text>
<rect x="348.50" y="443.50" width="98.00" height="71.00" stroke="#333" stroke-width="1.1" fill="none"/>
<line x1="346.10" y1="500.50" x2="348.60" y2="500.50" stroke="#333" stroke-width="1"/>
<line x1="346.10" y1="486.50" x2="348.60" y2="486.50" stroke="#333" stroke-width="1"/>
<line x1="346.10" y1="471.50" x2="348.60" y2="471.50" stroke="#333" stroke-width="1"/>
<line x1="346.10" y1="457.50" x2="348.60" y2="457.50" stroke="#333" stroke-width="1"/>
<line x1="349.50" y1="514.70" x2="349.50" y2="516.70" stroke="#333" stroke-width="1"/>
<line x1="373.50" y1="514.70" x2="373.50" y2="516.70" stroke="#333" stroke-width="1"/>
<line x1="397.50" y1="514.70" x2="397.50" y2="516.70" stroke="#333" stroke-width="1"/>
<line x1="421.50" y1="514.70" x2="421.50" y2="516.70" stroke="#333" stroke-width="1"/>
<line x1="445.50" y1="514.70" x2="445.50" y2="516.70" stroke="#333" stroke-width="1"/>
<rect x="367.50" y="473.50" width="23.00" height="25.00" stroke="#333" stroke-width="1.1" fill="none"/>
<text x="369.50" y="468.80" font-size="15.47" font-weight="bold" fill="#2a2a2a" textLength="20.00" lengthAdjust="spacingAndGlyphs" stroke="#2a2a2a" stroke-width="0.2">0.8</text>
<rect x="27.50" y="536.50" width="99.00" height="72.00" stroke="#333" stroke-width="1.1" fill="none"/>
<line x1="24.90" y1="594.50" x2="27.40" y2="594.50" stroke="#333" stroke-width="1"/>
<line x1="24.90" y1="579.50" x2="27.40" y2="579.50" stroke="#333" stroke-width="1"/>
<line x1="24.90" y1="565.50" x2="27.40" y2="565.50" stroke="#333" stroke-width="1"/>
<line x1="24.90" y1="550.50" x2="27.40" y2="550.50" stroke="#333" stroke-width="1"/>
<line x1="28.50" y1="608.60" x2="28.50" y2="610.60" stroke="#333" stroke-width="1"/>
<line x1="52.50" y1="608.60" x2="52.50" y2="610.60" stroke="#333" stroke-width="1"/>
<line x1="76.50" y1="608.60" x2="76.50" y2="610.60" stroke="#333" stroke-width="1"/>
<line x1="100.50" y1="608.60" x2="100.50" y2="610.60" stroke="#333" stroke-width="1"/>
<line x1="125.50" y1="608.60" x2="125.50" y2="610.60" stroke="#333" stroke-width="1"/>
<rect x="56.50" y="568.50" width="21.00" height="25.00" stroke="#333" stroke-width="1.1" fill="none"/>
<text x="52.80" y="563.40" font-size="15.19" font-weight="bold" fill="#2a2a2a" textLength="27.50" lengthAdjust="spacingAndGlyphs" stroke="#2a2a2a" stroke-width="0.2">10.8</text>
<rect x="131.50" y="536.50" width="99.00" height="72.00" stroke="#333" stroke-width="1.1" fill="none"/>
<line x1="128.80" y1="594.50" x2="131.30" y2="594.50" stroke="#333" stroke-width="1"/>
<line x1="128.80" y1="579.50" x2="131.30" y2="579.50" stroke="#333" stroke-width="1"/>
<line x1="128.80" y1="565.50" x2="131.30" y2="565.50" stroke="#333" stroke-width="1"/>
<line x1="128.80" y1="550.50" x2="131.30" y2="550.50" stroke="#333" stroke-width="1"/>
<line x1="132.50" y1="608.60" x2="132.50" y2="610.60" stroke="#333" stroke-width="1"/>
<line x1="156.50" y1="608.60" x2="156.50" y2="610.60" stroke="#333" stroke-width="1"/>
<line x1="180.50" y1="608.60" x2="180.50" y2="610.60" stroke="#333" stroke-width="1"/>
<line x1="205.50" y1="608.60" x2="205.50" y2="610.60" stroke="#333" stroke-width="1"/>
<line x1="229.50" y1="608.60" x2="229.50" y2="610.60" stroke="#333" stroke-width="1"/>
<rect x="152.50" y="568.50" width="23.00" height="25.00" stroke="#333" stroke-width="1.1" fill="none"/>
<text x="151.40" y="563.00" font-size="14.61" font-weight="bold" fill="#2a2a2a" textLength="27.50" lengthAdjust="spacingAndGlyphs" stroke="#2a2a2a" stroke-width="0.2">24.8</text>
<rect x="243.50" y="536.50" width="98.00" height="72.00" stroke="#333" stroke-width="1.1" fill="none"/>
<line x1="241.00" y1="594.50" x2="243.50" y2="594.50" stroke="#333" stroke-width="1"/>
<line x1="241.00" y1="579.50" x2="243.50" y2="579.50" stroke="#333" stroke-width="1"/>
<line x1="241.00" y1="565.50" x2="243.50" y2="565.50" stroke="#333" stroke-width="1"/>
<line x1="241.00" y1="550.50" x2="243.50" y2="550.50" stroke="#333" stroke-width="1"/>
<line x1="244.50" y1="608.60" x2="244.50" y2="610.60" stroke="#333" stroke-width="1"/>
<line x1="268.50" y1="608.60" x2="268.50" y2="610.60" stroke="#333" stroke-width="1"/>
<line x1="292.50" y1="608.60" x2="292.50" y2="610.60" stroke="#333" stroke-width="1"/>
<line x1="316.50" y1="608.60" x2="316.50" y2="610.60" stroke="#333" stroke-width="1"/>
<line x1="340.50" y1="608.60" x2="340.50" y2="610.60" stroke="#333" stroke-width="1"/>
<rect x="262.50" y="568.50" width="23.00" height="25.00" stroke="#333" stroke-width="1.1" fill="none"/>
<text x="263.60" y="563.00" font-size="14.61" font-weight="bold" fill="#2a2a2a" textLength="19.60" lengthAdjust="spacingAndGlyphs" stroke="#2a2a2a" stroke-width="0.2">2.9</text>
<rect x="347.50" y="536.50" width="99.00" height="72.00" stroke="#333" stroke-width="1.1" fill="none"/>
<line x1="345.10" y1="594.50" x2="347.60" y2="594.50" stroke="#333" stroke-width="1"/>
<line x1="345.10" y1="579.50" x2="347.60" y2="579.50" stroke="#333" stroke-width="1"/>
<line x1="345.10" y1="565.50" x2="347.60" y2="565.50" stroke="#333" stroke-width="1"/>
<line x1="345.10" y1="550.50" x2="347.60" y2="550.50" stroke="#333" stroke-width="1"/>
<line x1="348.50" y1="608.60" x2="348.50" y2="610.60" stroke="#333" stroke-width="1"/>
<line x1="372.50" y1="608.60" x2="372.50" y2="610.60" stroke="#333" stroke-width="1"/>
<line x1="396.50" y1="608.60" x2="396.50" y2="610.60" stroke="#333" stroke-width="1"/>
<line x1="421.50" y1="608.60" x2="421.50" y2="610.60" stroke="#333" stroke-width="1"/>
<line x1="445.50" y1="608.60" x2="445.50" y2="610.60" stroke="#333" stroke-width="1"/>
<rect x="366.50" y="568.50" width="23.00" height="25.00" stroke="#333" stroke-width="1.1" fill="none"/>
<text x="367.00" y="562.90" font-size="13.47" font-weight="bold" fill="#2a2a2a" textLength="18.00" lengthAdjust="spacingAndGlyphs" stroke="#2a2a2a" stroke-width="0.2">1.3</text>
<line x1="10.50" y1="510.30" x2="10.50" y2="457.60" stroke="#111" stroke-width="1.2"/>
<polygon points="7.90,458.60 10.70,450.20 13.50,458.60" fill="#111"/>
<text transform="translate(15.40,606.00) rotate(-90)" x="-0.00" y="0" font-size="19.48" font-weight="bold" fill="#2a2a2a" textLength="92.79" lengthAdjust="spacingAndGlyphs" stroke="#2a2a2a" stroke-width="0.2">Annexin V</text>
<text x="49.50" y="631.90" font-size="20.06" font-weight="bold" fill="#2a2a2a" textLength="36.69" lengthAdjust="spacingAndGlyphs" stroke="#2a2a2a" stroke-width="0.2">GFP</text>
<line x1="95.00" y1="622.50" x2="204.80" y2="622.50" stroke="#111" stroke-width="1.2"/>
<polygon points="203.80,619.40 212.30,622.50 203.80,625.60" fill="#111"/>
<text x="2.00" y="677.60" font-size="25.58" font-weight="bold" fill="#111" textLength="15.30" lengthAdjust="spacingAndGlyphs" stroke="#111" stroke-width="0.6">D</text>
<text x="48.80" y="698.00" font-size="15.26" font-weight="bold" fill="#2a2a2a" textLength="95.00" lengthAdjust="spacingAndGlyphs" stroke="#2a2a2a" stroke-width="0.2">MigR1/ DMSO</text>
<text x="167.90" y="697.50" font-size="13.66" font-weight="bold" fill="#2a2a2a" textLength="110.40" lengthAdjust="spacingAndGlyphs" stroke="#2a2a2a" stroke-width="0.2">MigICN1/ DMSO</text>
<text x="301.80" y="697.50" font-size="14.53" font-weight="bold" fill="#2a2a2a" textLength="102.80" lengthAdjust="spacingAndGlyphs" stroke="#2a2a2a" stroke-width="0.2">MigICN1/ zVAD</text>
<text x="424.20" y="757.10" font-size="19.34" font-weight="bold" fill="#2a2a2a" textLength="38.30" lengthAdjust="spacingAndGlyphs" stroke="#2a2a2a" stroke-width="0.2">22 h</text>
<text x="424.80" y="857.10" font-size="20.06" font-weight="bold" fill="#2a2a2a" textLength="31.70" lengthAdjust="spacingAndGlyphs" stroke="#2a2a2a" stroke-width="0.2">44h</text>
<line x1="30.50" y1="706.50" x2="152.40" y2="706.50" stroke="#333" stroke-width="1.2"/>
<line x1="30.50" y1="706.80" x2="30.50" y2="788.90" stroke="#333" stroke-width="1.3"/>
<line x1="30.50" y1="788.50" x2="152.40" y2="788.50" stroke="#333" stroke-width="1.2"/>
<line x1="27.20" y1="772.50" x2="30.50" y2="772.50" stroke="#333" stroke-width="1"/>
<line x1="27.20" y1="756.50" x2="30.50" y2="756.50" stroke="#333" stroke-width="1"/>
<line x1="27.20" y1="739.50" x2="30.50" y2="739.50" stroke="#333" stroke-width="1"/>
<line x1="27.20" y1="723.50" x2="30.50" y2="723.50" stroke="#333" stroke-width="1"/>
<line x1="27.20" y1="788.50" x2="30.50" y2="788.50" stroke="#333" stroke-width="1"/>
<line x1="31.50" y1="788.90" x2="31.50" y2="791.90" stroke="#333" stroke-width="1"/>
<line x1="61.50" y1="788.90" x2="61.50" y2="791.90" stroke="#333" stroke-width="1"/>
<line x1="91.50" y1="788.90" x2="91.50" y2="791.90" stroke="#333" stroke-width="1"/>
<line x1="121.50" y1="788.90" x2="121.50" y2="791.90" stroke="#333" stroke-width="1"/>
<line x1="151.50" y1="788.90" x2="151.50" y2="791.90" stroke="#333" stroke-width="1"/>
<line x1="160.20" y1="706.50" x2="280.80" y2="706.50" stroke="#333" stroke-width="1.2"/>
<line x1="160.50" y1="706.80" x2="160.50" y2="788.90" stroke="#333" stroke-width="1.3"/>
<line x1="160.20" y1="788.50" x2="280.80" y2="788.50" stroke="#333" stroke-width="1.2"/>
<line x1="280.50" y1="706.80" x2="280.50" y2="788.90" stroke="#333" stroke-width="1.2"/>
<line x1="156.90" y1="772.50" x2="160.20" y2="772.50" stroke="#333" stroke-width="1"/>
<line x1="156.90" y1="756.50" x2="160.20" y2="756.50" stroke="#333" stroke-width="1"/>
<line x1="156.90" y1="739.50" x2="160.20" y2="739.50" stroke="#333" stroke-width="1"/>
<line x1="156.90" y1="723.50" x2="160.20" y2="723.50" stroke="#333" stroke-width="1"/>
<line x1="156.90" y1="788.50" x2="160.20" y2="788.50" stroke="#333" stroke-width="1"/>
<line x1="161.50" y1="788.90" x2="161.50" y2="791.90" stroke="#333" stroke-width="1"/>
<line x1="191.50" y1="788.90" x2="191.50" y2="791.90" stroke="#333" stroke-width="1"/>
<line x1="220.50" y1="788.90" x2="220.50" y2="791.90" stroke="#333" stroke-width="1"/>
<line x1="250.50" y1="788.90" x2="250.50" y2="791.90" stroke="#333" stroke-width="1"/>
<line x1="280.50" y1="788.90" x2="280.50" y2="791.90" stroke="#333" stroke-width="1"/>
<line x1="291.00" y1="706.50" x2="413.30" y2="706.50" stroke="#333" stroke-width="1.2"/>
<line x1="291.50" y1="706.80" x2="291.50" y2="788.90" stroke="#333" stroke-width="1.3"/>
<line x1="291.00" y1="788.50" x2="413.30" y2="788.50" stroke="#333" stroke-width="1.2"/>
<line x1="413.50" y1="706.80" x2="413.50" y2="788.90" stroke="#333" stroke-width="1.2"/>
<line x1="287.70" y1="772.50" x2="291.00" y2="772.50" stroke="#333" stroke-width="1"/>
<line x1="287.70" y1="756.50" x2="291.00" y2="756.50" stroke="#333" stroke-width="1"/>
<line x1="287.70" y1="739.50" x2="291.00" y2="739.50" stroke="#333" stroke-width="1"/>
<line x1="287.70" y1="723.50" x2="291.00" y2="723.50" stroke="#333" stroke-width="1"/>
<line x1="287.70" y1="788.50" x2="291.00" y2="788.50" stroke="#333" stroke-width="1"/>
<line x1="292.50" y1="788.90" x2="292.50" y2="791.90" stroke="#333" stroke-width="1"/>
<line x1="322.50" y1="788.90" x2="322.50" y2="791.90" stroke="#333" stroke-width="1"/>
<line x1="352.50" y1="788.90" x2="352.50" y2="791.90" stroke="#333" stroke-width="1"/>
<line x1="382.50" y1="788.90" x2="382.50" y2="791.90" stroke="#333" stroke-width="1"/>
<line x1="412.50" y1="788.90" x2="412.50" y2="791.90" stroke="#333" stroke-width="1"/>
<line x1="30.60" y1="813.50" x2="151.90" y2="813.50" stroke="#333" stroke-width="1.2"/>
<line x1="30.50" y1="813.60" x2="30.50" y2="896.00" stroke="#333" stroke-width="1.3"/>
<line x1="30.60" y1="896.50" x2="151.90" y2="896.50" stroke="#333" stroke-width="1.2"/>
<line x1="151.50" y1="813.60" x2="151.50" y2="896.00" stroke="#333" stroke-width="1.2"/>
<line x1="27.30" y1="879.50" x2="30.60" y2="879.50" stroke="#333" stroke-width="1"/>
<line x1="27.30" y1="863.50" x2="30.60" y2="863.50" stroke="#333" stroke-width="1"/>
<line x1="27.30" y1="846.50" x2="30.60" y2="846.50" stroke="#333" stroke-width="1"/>
<line x1="27.30" y1="830.50" x2="30.60" y2="830.50" stroke="#333" stroke-width="1"/>
<line x1="27.30" y1="896.50" x2="30.60" y2="896.50" stroke="#333" stroke-width="1"/>
<line x1="31.50" y1="896.00" x2="31.50" y2="899.00" stroke="#333" stroke-width="1"/>
<line x1="61.50" y1="896.00" x2="61.50" y2="899.00" stroke="#333" stroke-width="1"/>
<line x1="91.50" y1="896.00" x2="91.50" y2="899.00" stroke="#333" stroke-width="1"/>
<line x1="121.50" y1="896.00" x2="121.50" y2="899.00" stroke="#333" stroke-width="1"/>
<line x1="151.50" y1="896.00" x2="151.50" y2="899.00" stroke="#333" stroke-width="1"/>
<line x1="160.10" y1="813.50" x2="281.00" y2="813.50" stroke="#333" stroke-width="1.2"/>
<line x1="160.50" y1="813.20" x2="160.50" y2="896.00" stroke="#333" stroke-width="1.3"/>
<line x1="160.10" y1="896.50" x2="281.00" y2="896.50" stroke="#333" stroke-width="1.2"/>
<line x1="281.50" y1="813.20" x2="281.50" y2="896.00" stroke="#333" stroke-width="1.2"/>
<line x1="156.80" y1="879.50" x2="160.10" y2="879.50" stroke="#333" stroke-width="1"/>
<line x1="156.80" y1="863.50" x2="160.10" y2="863.50" stroke="#333" stroke-width="1"/>
<line x1="156.80" y1="846.50" x2="160.10" y2="846.50" stroke="#333" stroke-width="1"/>
<line x1="156.80" y1="830.50" x2="160.10" y2="830.50" stroke="#333" stroke-width="1"/>
<line x1="156.80" y1="896.50" x2="160.10" y2="896.50" stroke="#333" stroke-width="1"/>
<line x1="161.50" y1="896.00" x2="161.50" y2="899.00" stroke="#333" stroke-width="1"/>
<line x1="191.50" y1="896.00" x2="191.50" y2="899.00" stroke="#333" stroke-width="1"/>
<line x1="220.50" y1="896.00" x2="220.50" y2="899.00" stroke="#333" stroke-width="1"/>
<line x1="250.50" y1="896.00" x2="250.50" y2="899.00" stroke="#333" stroke-width="1"/>
<line x1="280.50" y1="896.00" x2="280.50" y2="899.00" stroke="#333" stroke-width="1"/>
<line x1="291.50" y1="813.50" x2="413.50" y2="813.50" stroke="#333" stroke-width="1.2"/>
<line x1="291.50" y1="813.60" x2="291.50" y2="896.00" stroke="#333" stroke-width="1.3"/>
<line x1="291.50" y1="896.50" x2="413.50" y2="896.50" stroke="#333" stroke-width="1.2"/>
<line x1="413.50" y1="813.60" x2="413.50" y2="896.00" stroke="#333" stroke-width="1.2"/>
<line x1="288.20" y1="879.50" x2="291.50" y2="879.50" stroke="#333" stroke-width="1"/>
<line x1="288.20" y1="863.50" x2="291.50" y2="863.50" stroke="#333" stroke-width="1"/>
<line x1="288.20" y1="846.50" x2="291.50" y2="846.50" stroke="#333" stroke-width="1"/>
<line x1="288.20" y1="830.50" x2="291.50" y2="830.50" stroke="#333" stroke-width="1"/>
<line x1="288.20" y1="896.50" x2="291.50" y2="896.50" stroke="#333" stroke-width="1"/>
<line x1="292.50" y1="896.00" x2="292.50" y2="899.00" stroke="#333" stroke-width="1"/>
<line x1="322.50" y1="896.00" x2="322.50" y2="899.00" stroke="#333" stroke-width="1"/>
<line x1="352.50" y1="896.00" x2="352.50" y2="899.00" stroke="#333" stroke-width="1"/>
<line x1="382.50" y1="896.00" x2="382.50" y2="899.00" stroke="#333" stroke-width="1"/>
<line x1="412.50" y1="896.00" x2="412.50" y2="899.00" stroke="#333" stroke-width="1"/>
<rect x="44.50" y="721.50" width="49.00" height="24.00" stroke="#333" stroke-width="1.1" fill="none"/>
<rect x="77.50" y="751.50" width="73.00" height="35.00" stroke="#333" stroke-width="1.1" fill="none"/>
<rect x="173.50" y="721.50" width="49.00" height="25.00" stroke="#333" stroke-width="1.1" fill="none"/>
<rect x="206.50" y="751.50" width="73.00" height="35.00" stroke="#333" stroke-width="1.1" fill="none"/>
<rect x="305.50" y="722.50" width="47.00" height="24.00" stroke="#333" stroke-width="1.1" fill="none"/>
<rect x="338.50" y="752.50" width="72.00" height="35.00" stroke="#333" stroke-width="1.1" fill="none"/>
<rect x="44.50" y="829.50" width="48.00" height="24.00" stroke="#333" stroke-width="1.1" fill="none"/>
<rect x="77.50" y="859.50" width="72.00" height="35.00" stroke="#333" stroke-width="1.1" fill="none"/>
<rect x="174.50" y="829.50" width="49.00" height="24.00" stroke="#333" stroke-width="1.1" fill="none"/>
<rect x="207.50" y="859.50" width="72.00" height="35.00" stroke="#333" stroke-width="1.1" fill="none"/>
<rect x="305.50" y="829.50" width="48.00" height="25.00" stroke="#333" stroke-width="1.1" fill="none"/>
<rect x="338.50" y="859.50" width="72.00" height="36.00" stroke="#333" stroke-width="1.1" fill="none"/>
<text x="57.30" y="719.60" font-size="12.61" font-weight="bold" fill="#2a2a2a" textLength="18.90" lengthAdjust="spacingAndGlyphs" stroke="#2a2a2a" stroke-width="0.2">7.3</text>
<text x="105.20" y="744.40" font-size="13.47" font-weight="bold" fill="#2a2a2a" textLength="28.80" lengthAdjust="spacingAndGlyphs" stroke="#2a2a2a" stroke-width="0.2">39.8</text>
<text x="184.00" y="719.20" font-size="12.89" font-weight="bold" fill="#2a2a2a" textLength="27.00" lengthAdjust="spacingAndGlyphs" stroke="#2a2a2a" stroke-width="0.2">32.7</text>
<text x="240.60" y="746.00" font-size="14.33" font-weight="bold" fill="#2a2a2a" textLength="21.50" lengthAdjust="spacingAndGlyphs" stroke="#2a2a2a" stroke-width="0.2">4.0</text>
<text x="318.50" y="719.40" font-size="12.03" font-weight="bold" fill="#2a2a2a" textLength="20.20" lengthAdjust="spacingAndGlyphs" stroke="#2a2a2a" stroke-width="0.2">5.4</text>
<text x="368.30" y="746.20" font-size="13.18" font-weight="bold" fill="#2a2a2a" textLength="28.20" lengthAdjust="spacingAndGlyphs" stroke="#2a2a2a" stroke-width="0.2">40.7</text>
<text x="54.10" y="827.50" font-size="14.33" font-weight="bold" fill="#2a2a2a" textLength="20.70" lengthAdjust="spacingAndGlyphs" stroke="#2a2a2a" stroke-width="0.2">3.9</text>
<text x="109.00" y="853.80" font-size="14.18" font-weight="bold" fill="#2a2a2a" textLength="26.40" lengthAdjust="spacingAndGlyphs" stroke="#2a2a2a" stroke-width="0.2">42.1</text>
<text x="182.20" y="826.90" font-size="14.61" font-weight="bold" fill="#2a2a2a" textLength="28.00" lengthAdjust="spacingAndGlyphs" stroke="#2a2a2a" stroke-width="0.2">15.3</text>
<text x="240.60" y="852.50" font-size="13.47" font-weight="bold" fill="#2a2a2a" textLength="19.60" lengthAdjust="spacingAndGlyphs" stroke="#2a2a2a" stroke-width="0.2">1.2</text>
<text x="317.90" y="827.50" font-size="14.33" font-weight="bold" fill="#2a2a2a" textLength="20.00" lengthAdjust="spacingAndGlyphs" stroke="#2a2a2a" stroke-width="0.2">7.0</text>
<text x="371.80" y="852.50" font-size="13.47" font-weight="bold" fill="#2a2a2a" textLength="16.10" lengthAdjust="spacingAndGlyphs" stroke="#2a2a2a" stroke-width="0.2">23</text>
<line x1="10.50" y1="791.00" x2="10.50" y2="721.20" stroke="#111" stroke-width="1.2"/>
<polygon points="7.40,722.20 10.40,712.50 13.40,722.20" fill="#111"/>
<text transform="translate(16.40,887.80) rotate(-90)" x="-0.00" y="0" font-size="22.67" font-weight="bold" fill="#2a2a2a" textLength="91.49" lengthAdjust="spacingAndGlyphs" stroke="#2a2a2a" stroke-width="0.2">Annexin V</text>
<text x="80.50" y="921.00" font-size="20.35" font-weight="bold" fill="#2a2a2a" textLength="36.39" lengthAdjust="spacingAndGlyphs" stroke="#2a2a2a" stroke-width="0.2">GFP</text>
<line x1="129.20" y1="911.50" x2="249.00" y2="911.50" stroke="#111" stroke-width="1.2"/>
<polygon points="248.00,908.10 257.20,911.60 248.00,915.10" fill="#111"/>
<clipPath id="c1"><rect x="27.90" y="443.00" width="98.00" height="71.20"/></clipPath><g clip-path="url(#c1)">
<path d="M27.71,498.28 C28.31,493.91 29.83,492.02 31.21,489.80 C32.59,487.58 34.18,486.06 36.00,484.96 C37.81,483.86 40.01,483.54 42.12,483.23 C44.23,482.92 46.65,482.67 48.68,483.12 C50.70,483.58 52.85,484.70 54.27,485.95 C55.69,487.19 56.68,488.23 57.21,490.60 C57.74,492.97 57.69,497.22 57.46,500.18 C57.22,503.14 56.31,505.78 55.78,508.36 C55.26,510.93 59.01,514.34 54.32,515.62 C49.63,516.90 32.06,518.92 27.62,516.03 C23.18,513.14 27.11,502.65 27.71,498.28Z" fill="none" stroke="#151515" stroke-width="0.9" stroke-dasharray="2.6 0.9"/>
<path d="M29.79,500.60 C30.24,496.93 30.80,495.70 31.85,493.84 C32.91,491.97 34.46,490.41 36.10,489.43 C37.75,488.45 39.78,488.16 41.71,487.95 C43.64,487.74 45.98,487.74 47.71,488.16 C49.44,488.58 50.91,489.43 52.10,490.47 C53.28,491.50 54.20,492.37 54.79,494.37 C55.39,496.36 55.77,500.01 55.67,502.45 C55.57,504.88 54.69,506.64 54.19,508.95 C53.70,511.26 56.89,515.14 52.71,516.29 C48.54,517.44 32.96,518.48 29.14,515.87 C25.32,513.25 29.34,504.28 29.79,500.60Z" fill="none" stroke="#151515" stroke-width="0.9"/>
<path d="M31.06,503.57 C31.51,500.53 32.48,499.26 33.51,497.74 C34.54,496.22 35.92,495.23 37.22,494.44 C38.53,493.64 39.71,493.12 41.36,492.97 C43.02,492.82 45.60,493.18 47.15,493.53 C48.69,493.88 49.74,494.28 50.64,495.07 C51.54,495.87 52.07,496.68 52.55,498.29 C53.03,499.90 53.65,502.71 53.54,504.73 C53.43,506.76 52.35,508.54 51.90,510.44 C51.44,512.34 54.32,515.22 50.80,516.14 C47.28,517.06 34.07,518.05 30.78,515.95 C27.49,513.86 30.60,506.60 31.06,503.57Z" fill="none" stroke="#151515" stroke-width="0.9" stroke-dasharray="2.6 0.9"/>
<path d="M32.33,506.32 C32.64,503.93 33.41,502.91 34.26,501.61 C35.11,500.32 36.32,499.17 37.43,498.57 C38.54,497.97 39.46,498.08 40.91,498.01 C42.37,497.95 44.82,498.00 46.15,498.20 C47.47,498.40 48.09,498.50 48.87,499.24 C49.66,499.98 50.46,501.30 50.88,502.64 C51.31,503.97 51.48,505.77 51.42,507.23 C51.36,508.69 50.94,509.86 50.53,511.39 C50.12,512.91 52.00,515.60 48.97,516.36 C45.95,517.13 35.16,517.64 32.38,515.97 C29.61,514.29 32.01,508.71 32.33,506.32Z" fill="none" stroke="#151515" stroke-width="0.9" stroke-dasharray="2.6 0.9"/>
<path d="M33.58,508.84 C33.89,507.02 34.92,506.03 35.69,505.20 C36.45,504.37 37.20,504.23 38.15,503.86 C39.09,503.49 40.22,503.13 41.35,502.99 C42.48,502.85 43.93,502.86 44.93,503.01 C45.92,503.17 46.74,503.39 47.33,503.94 C47.92,504.49 48.18,505.39 48.48,506.30 C48.79,507.20 49.18,508.28 49.16,509.36 C49.13,510.44 48.66,511.70 48.32,512.79 C47.99,513.87 49.59,515.33 47.17,515.88 C44.74,516.43 36.06,517.27 33.79,516.10 C31.53,514.93 33.26,510.65 33.58,508.84Z" fill="none" stroke="#151515" stroke-width="0.9"/>
<path d="M35.29,511.47 C35.45,510.40 35.55,509.81 36.02,509.28 C36.50,508.76 37.30,508.53 38.14,508.32 C38.99,508.10 40.14,508.02 41.09,507.99 C42.04,507.96 43.12,508.00 43.84,508.13 C44.56,508.26 44.89,508.56 45.40,508.77 C45.92,508.99 46.74,508.94 46.94,509.42 C47.14,509.89 46.67,510.88 46.61,511.61 C46.56,512.34 46.83,513.05 46.60,513.80 C46.38,514.55 47.21,515.79 45.29,516.10 C43.37,516.41 36.74,516.43 35.08,515.66 C33.41,514.88 35.13,512.53 35.29,511.47Z" fill="none" stroke="#151515" stroke-width="0.9" stroke-dasharray="2.6 0.9"/>
<line x1="49.50" y1="492.00" x2="49.50" y2="505.00" stroke="#151515" stroke-width="0.8" stroke-dasharray="2.5 0.8"/>
<line x1="51.50" y1="492.00" x2="51.50" y2="505.00" stroke="#151515" stroke-width="0.8" stroke-dasharray="2.5 0.8"/>
<line x1="53.50" y1="492.00" x2="53.50" y2="505.00" stroke="#151515" stroke-width="0.8" stroke-dasharray="2.5 0.8"/>
<path d="M57.00,485.50 C58.00,485.42 60.83,485.17 63.00,485.00 C65.17,484.83 68.83,484.58 70.00,484.50" fill="none" stroke="#151515" stroke-width="0.9" stroke-dasharray="3 1"/>
<path d="M57.00,491.00 C57.83,490.92 60.17,490.83 62.00,490.50 C63.83,490.17 67.00,489.25 68.00,489.00" fill="none" stroke="#151515" stroke-width="0.9" stroke-dasharray="3 1"/>
<path d="M76.36,518.36 C70.48,516.67 76.33,510.70 77.65,507.67 C78.96,504.64 81.85,502.83 84.27,500.19 C86.68,497.55 89.50,493.95 92.14,491.85 C94.77,489.75 97.60,488.52 100.08,487.59 C102.57,486.65 104.92,486.34 107.06,486.23 C109.21,486.11 111.84,485.39 112.94,486.91 C114.05,488.44 113.61,492.38 113.68,495.40 C113.75,498.42 113.48,501.30 113.36,505.04 C113.24,508.77 119.12,515.59 112.96,517.81 C106.79,520.04 82.25,520.05 76.36,518.36Z" fill="none" stroke="#151515" stroke-width="0.9" stroke-dasharray="2.6 0.9"/>
<path d="M79.83,517.77 C74.83,516.28 80.69,511.94 81.87,509.50 C83.05,507.07 84.91,505.40 86.90,503.16 C88.90,500.93 91.57,497.98 93.82,496.10 C96.07,494.21 98.29,492.68 100.39,491.84 C102.49,491.01 104.53,491.03 106.41,491.08 C108.29,491.14 110.69,490.99 111.66,492.20 C112.63,493.41 112.16,495.82 112.21,498.35 C112.27,500.87 112.03,503.98 111.96,507.34 C111.90,510.69 117.19,516.74 111.84,518.48 C106.48,520.21 84.82,519.27 79.83,517.77Z" fill="none" stroke="#151515" stroke-width="0.9"/>
<path d="M84.61,518.53 C80.50,517.37 84.72,513.87 85.68,511.68 C86.64,509.50 88.68,507.33 90.37,505.43 C92.06,503.53 94.00,501.68 95.80,500.27 C97.60,498.86 99.45,497.59 101.17,496.97 C102.88,496.36 104.57,496.61 106.09,496.59 C107.61,496.57 109.56,495.88 110.30,496.87 C111.04,497.85 110.48,500.46 110.53,502.51 C110.59,504.56 110.65,506.48 110.62,509.17 C110.59,511.86 114.69,517.08 110.35,518.64 C106.02,520.20 88.72,519.69 84.61,518.53Z" fill="none" stroke="#151515" stroke-width="0.9" stroke-dasharray="2.6 0.9"/>
<path d="M88.78,518.44 C85.53,517.44 88.75,514.50 89.48,512.81 C90.21,511.12 91.78,509.76 93.16,508.28 C94.53,506.81 96.23,505.09 97.73,503.96 C99.22,502.84 100.75,501.97 102.13,501.52 C103.51,501.08 104.88,501.31 106.02,501.29 C107.15,501.27 108.40,500.65 108.95,501.41 C109.51,502.18 109.37,504.26 109.35,505.87 C109.32,507.48 108.86,508.91 108.80,511.07 C108.74,513.22 112.30,517.57 108.96,518.80 C105.62,520.03 92.03,519.44 88.78,518.44Z" fill="none" stroke="#151515" stroke-width="0.9" stroke-dasharray="2.6 0.9"/>
<path d="M92.90,518.26 C90.62,517.59 93.29,515.97 93.86,514.78 C94.43,513.60 95.40,512.31 96.33,511.15 C97.25,510.00 98.36,508.67 99.40,507.85 C100.43,507.02 101.59,506.48 102.52,506.22 C103.45,505.96 104.19,506.30 104.98,506.30 C105.78,506.30 106.77,505.74 107.29,506.22 C107.80,506.70 108.07,507.95 108.08,509.20 C108.10,510.44 107.46,512.11 107.37,513.70 C107.28,515.30 109.95,518.01 107.54,518.77 C105.13,519.53 95.18,518.93 92.90,518.26Z" fill="none" stroke="#151515" stroke-width="0.9"/>
<line x1="88.00" y1="513.50" x2="112.00" y2="513.50" stroke="#151515" stroke-width="1.1"/>
</g>
<clipPath id="c2"><rect x="131.00" y="443.50" width="98.80" height="70.70"/></clipPath><g clip-path="url(#c2)">
<path d="M131.00,506.00 C131.50,505.00 132.83,502.00 134.00,500.00 C135.17,498.00 136.58,495.57 138.00,494.00 C139.42,492.43 141.17,490.60 142.50,490.60 C143.83,490.60 144.75,492.60 146.00,494.00 C147.25,495.40 149.00,497.00 150.00,499.00 C151.00,501.00 151.67,503.50 152.00,506.00 C152.33,508.50 152.00,512.67 152.00,514.00" fill="none" stroke="#151515" stroke-width="0.9" stroke-dasharray="2.6 0.9"/>
<path d="M133.00,507.00 C133.50,506.00 134.83,502.83 136.00,501.00 C137.17,499.17 138.83,497.17 140.00,496.00 C141.17,494.83 141.83,493.67 143.00,494.00 C144.17,494.33 145.83,496.33 147.00,498.00 C148.17,499.67 149.50,503.00 150.00,504.00" fill="none" stroke="#151515" stroke-width="0.9"/>
<line x1="136.00" y1="497.50" x2="150.00" y2="497.50" stroke="#151515" stroke-width="0.9" stroke-dasharray="3 0.8"/>
<line x1="135.00" y1="499.50" x2="151.00" y2="499.50" stroke="#151515" stroke-width="0.9" stroke-dasharray="2.5 0.8"/>
<ellipse cx="141.50" cy="507.00" rx="6.00" ry="3.40" transform="rotate(0 141.50 507.00)" fill="none" stroke="#151515" stroke-width="0.9"/>
<ellipse cx="141.50" cy="507.00" rx="2.40" ry="1.40" transform="rotate(0 141.50 507.00)" fill="none" stroke="#151515" stroke-width="0.9"/>
<path d="M132.00,512.00 C133.00,511.92 135.67,511.50 138.00,511.50 C140.33,511.50 143.83,512.08 146.00,512.00 C148.17,511.92 150.17,511.17 151.00,511.00" fill="none" stroke="#151515" stroke-width="0.9" stroke-dasharray="2.6 0.9"/>
<path d="M147.79,515.68 C136.57,514.34 147.94,509.85 149.92,507.72 C151.89,505.60 155.42,504.34 159.65,502.92 C163.89,501.51 170.24,500.60 175.33,499.24 C180.43,497.88 185.26,496.18 190.21,494.78 C195.16,493.37 201.28,491.92 205.03,490.82 C208.78,489.72 210.78,488.43 212.74,488.18 C214.70,487.94 215.93,487.33 216.77,489.34 C217.61,491.35 217.68,495.84 217.76,500.25 C217.84,504.65 228.90,513.18 217.24,515.75 C205.58,518.33 159.01,517.02 147.79,515.68Z" fill="none" stroke="#151515" stroke-width="0.9" stroke-dasharray="2.6 0.9"/>
<path d="M153.55,516.10 C143.48,515.01 153.81,511.57 155.69,509.72 C157.56,507.88 161.07,506.26 164.80,505.01 C168.54,503.75 173.63,503.28 178.08,502.20 C182.53,501.12 187.02,499.69 191.50,498.52 C195.99,497.35 201.47,495.97 204.98,495.17 C208.49,494.37 210.74,493.99 212.55,493.74 C214.36,493.50 215.17,492.17 215.84,493.70 C216.51,495.23 216.53,499.17 216.58,502.94 C216.62,506.70 226.61,514.08 216.11,516.28 C205.60,518.47 163.62,517.19 153.55,516.10Z" fill="none" stroke="#151515" stroke-width="0.9"/>
<path d="M159.41,515.93 C150.47,515.10 159.53,512.23 161.08,510.82 C162.63,509.42 165.37,508.54 168.73,507.52 C172.09,506.51 177.27,505.57 181.25,504.75 C185.23,503.94 188.71,503.45 192.64,502.66 C196.57,501.87 201.70,500.76 204.82,500.03 C207.95,499.30 209.68,498.53 211.38,498.27 C213.07,498.02 214.41,497.27 215.00,498.48 C215.59,499.68 214.98,502.63 214.93,505.52 C214.88,508.41 223.96,514.09 214.71,515.82 C205.45,517.56 168.34,516.76 159.41,515.93Z" fill="none" stroke="#151515" stroke-width="0.9" stroke-dasharray="2.6 0.9"/>
<path d="M166.12,516.20 C158.48,515.53 166.02,513.45 167.46,512.37 C168.89,511.28 171.92,510.43 174.72,509.70 C177.52,508.97 180.87,508.51 184.25,507.96 C187.63,507.42 191.59,507.03 195.01,506.43 C198.44,505.83 202.26,504.88 204.79,504.36 C207.32,503.85 208.85,503.42 210.18,503.32 C211.52,503.21 212.19,502.79 212.79,503.74 C213.40,504.69 213.72,506.90 213.82,509.00 C213.91,511.11 221.30,515.17 213.35,516.37 C205.40,517.57 173.77,516.86 166.12,516.20Z" fill="none" stroke="#151515" stroke-width="0.9" stroke-dasharray="2.6 0.9"/>
<path d="M176.11,515.83 C170.56,515.51 176.82,514.50 177.87,513.98 C178.93,513.46 180.39,513.13 182.43,512.71 C184.47,512.30 187.61,511.97 190.10,511.49 C192.58,511.02 194.86,510.34 197.33,509.87 C199.81,509.41 203.03,508.91 204.96,508.71 C206.88,508.51 207.92,508.78 208.91,508.67 C209.89,508.56 210.53,507.62 210.87,508.05 C211.20,508.48 210.83,509.95 210.89,511.26 C210.95,512.56 217.02,515.13 211.23,515.89 C205.43,516.65 181.67,516.15 176.11,515.83Z" fill="none" stroke="#151515" stroke-width="0.9"/>
<line x1="183.00" y1="511.50" x2="198.00" y2="511.50" stroke="#151515" stroke-width="1.2"/>
<line x1="205.00" y1="512.50" x2="222.00" y2="512.50" stroke="#151515" stroke-width="1.2"/>
</g>
<clipPath id="c3"><rect x="244.20" y="444.00" width="97.60" height="70.20"/></clipPath><g clip-path="url(#c3)">
<path d="M244.10,500.19 C245.44,496.71 248.72,497.50 252.24,496.85 C255.75,496.21 260.63,496.40 265.19,496.34 C269.76,496.27 274.60,496.84 279.62,496.47 C284.65,496.10 290.24,494.75 295.35,494.12 C300.47,493.49 306.55,492.83 310.32,492.69 C314.09,492.55 316.02,492.57 317.98,493.30 C319.93,494.03 321.35,495.15 322.04,497.06 C322.72,498.97 322.15,501.89 322.11,504.77 C322.08,507.65 334.81,512.17 321.82,514.33 C308.84,516.49 257.17,520.08 244.21,517.73 C231.26,515.37 242.76,503.67 244.10,500.19Z" fill="none" stroke="#151515" stroke-width="0.9" stroke-dasharray="2.6 0.9"/>
<path d="M245.88,502.05 C247.19,499.11 250.16,499.62 253.41,499.17 C256.67,498.72 260.98,499.35 265.40,499.36 C269.83,499.37 275.04,499.52 279.97,499.24 C284.90,498.97 290.18,498.10 294.99,497.72 C299.80,497.34 305.21,497.06 308.83,496.97 C312.45,496.87 314.80,496.61 316.71,497.15 C318.62,497.70 319.54,498.62 320.28,500.23 C321.02,501.84 321.06,504.58 321.15,506.81 C321.24,509.05 333.44,511.99 320.83,513.66 C308.23,515.33 258.02,518.77 245.53,516.83 C233.04,514.90 244.56,504.99 245.88,502.05Z" fill="none" stroke="#151515" stroke-width="0.9"/>
<path d="M247.82,504.20 C249.01,501.88 252.01,502.71 255.14,502.36 C258.27,502.01 262.40,502.13 266.60,502.09 C270.81,502.05 275.76,502.37 280.37,502.12 C284.98,501.88 289.76,500.99 294.25,500.63 C298.75,500.28 303.92,500.10 307.35,499.98 C310.79,499.87 312.98,499.60 314.86,499.97 C316.75,500.34 318.00,500.87 318.68,502.22 C319.36,503.57 319.08,506.13 318.95,508.08 C318.82,510.02 329.74,512.51 317.91,513.88 C306.09,515.25 259.68,517.93 247.99,516.31 C236.31,514.70 246.63,506.53 247.82,504.20Z" fill="none" stroke="#151515" stroke-width="0.9" stroke-dasharray="2.6 0.9"/>
<path d="M251.81,506.40 C252.82,504.68 255.52,505.67 258.34,505.44 C261.17,505.22 264.92,505.05 268.76,505.04 C272.59,505.04 277.32,505.65 281.34,505.43 C285.36,505.22 288.93,504.07 292.88,503.76 C296.82,503.46 301.98,503.61 305.02,503.62 C308.05,503.63 309.45,503.51 311.09,503.84 C312.72,504.17 314.25,504.66 314.84,505.61 C315.43,506.55 314.72,508.23 314.63,509.52 C314.54,510.81 324.66,512.32 314.27,513.35 C303.88,514.39 262.70,516.89 252.29,515.73 C241.88,514.58 250.80,508.11 251.81,506.40Z" fill="none" stroke="#151515" stroke-width="0.9" stroke-dasharray="2.6 0.9"/>
<path d="M258.22,509.18 C259.15,507.95 261.31,507.88 263.59,507.57 C265.86,507.26 268.88,507.32 271.85,507.30 C274.82,507.28 278.11,507.44 281.41,507.44 C284.71,507.44 288.39,507.52 291.65,507.32 C294.91,507.12 298.45,506.33 300.98,506.24 C303.51,506.15 305.51,506.55 306.84,506.79 C308.17,507.03 308.54,507.02 308.97,507.67 C309.41,508.32 309.44,509.77 309.45,510.70 C309.46,511.63 317.59,512.55 309.01,513.26 C300.44,513.96 266.46,515.61 257.99,514.93 C249.53,514.25 257.29,510.41 258.22,509.18Z" fill="none" stroke="#151515" stroke-width="0.9"/>
<path d="M266.18,510.65 C266.82,509.99 268.75,509.79 270.42,509.73 C272.09,509.68 274.11,510.21 276.19,510.30 C278.26,510.39 280.69,510.39 282.85,510.26 C285.02,510.13 287.00,509.63 289.19,509.53 C291.37,509.43 294.22,509.69 295.97,509.68 C297.72,509.66 298.67,509.33 299.69,509.45 C300.70,509.57 301.62,510.06 302.05,510.40 C302.48,510.75 302.32,511.03 302.26,511.52 C302.19,512.02 307.59,513.00 301.64,513.36 C295.69,513.73 272.44,514.18 266.53,513.73 C260.62,513.28 265.53,511.32 266.18,510.65Z" fill="none" stroke="#151515" stroke-width="0.9" stroke-dasharray="2.6 0.9"/>
<line x1="250.00" y1="498.50" x2="268.00" y2="499.00" stroke="#151515" stroke-width="1.6"/>
<line x1="296.00" y1="512.50" x2="306.00" y2="512.50" stroke="#151515" stroke-width="1.3"/>
</g>
<clipPath id="c4"><rect x="349.10" y="443.80" width="96.80" height="70.40"/></clipPath><g clip-path="url(#c4)">
<path d="M348.23,497.26 C349.36,493.28 352.09,494.83 354.99,494.31 C357.88,493.79 361.44,494.15 365.60,494.13 C369.77,494.11 375.09,494.53 379.98,494.21 C384.86,493.89 389.92,493.04 394.90,492.22 C399.87,491.39 405.27,489.96 409.82,489.24 C414.37,488.53 418.98,487.78 422.18,487.93 C425.39,488.08 427.69,488.13 429.03,490.15 C430.38,492.16 430.05,496.10 430.25,500.04 C430.46,503.99 443.91,510.79 430.24,513.81 C416.58,516.83 361.91,520.91 348.24,518.15 C334.57,515.39 347.11,501.23 348.23,497.26Z" fill="none" stroke="#151515" stroke-width="0.9" stroke-dasharray="2.6 0.9"/>
<path d="M350.04,499.93 C351.06,496.69 353.28,498.65 356.15,498.25 C359.03,497.85 363.28,497.70 367.28,497.56 C371.28,497.41 375.54,497.65 380.16,497.36 C384.77,497.06 390.07,496.42 394.99,495.79 C399.90,495.16 405.38,494.07 409.64,493.57 C413.90,493.07 417.60,492.62 420.56,492.80 C423.52,492.99 425.95,493.04 427.41,494.67 C428.86,496.29 429.09,499.28 429.29,502.53 C429.49,505.78 441.81,511.64 428.60,514.16 C415.38,516.68 363.10,520.03 350.00,517.66 C336.91,515.29 349.01,503.16 350.04,499.93Z" fill="none" stroke="#151515" stroke-width="0.9"/>
<path d="M352.02,502.84 C353.11,500.21 356.01,501.53 358.78,501.17 C361.56,500.81 364.88,500.70 368.67,500.67 C372.46,500.65 377.22,501.16 381.50,501.02 C385.79,500.88 389.97,500.42 394.39,499.83 C398.82,499.24 403.95,498.01 408.05,497.51 C412.15,497.00 416.15,496.61 418.99,496.81 C421.82,497.01 423.76,497.41 425.07,498.69 C426.37,499.98 426.58,502.02 426.81,504.51 C427.03,507.00 438.85,511.54 426.42,513.61 C414.00,515.68 364.67,518.72 352.27,516.92 C339.87,515.13 350.94,505.46 352.02,502.84Z" fill="none" stroke="#151515" stroke-width="0.9" stroke-dasharray="2.6 0.9"/>
<path d="M356.90,505.68 C357.82,503.76 359.97,504.70 362.30,504.55 C364.64,504.40 367.61,504.84 370.90,504.80 C374.19,504.76 378.09,504.58 382.04,504.34 C385.99,504.10 390.47,503.78 394.60,503.36 C398.72,502.93 403.15,502.05 406.78,501.80 C410.42,501.54 413.89,501.67 416.38,501.83 C418.88,502.00 420.67,501.84 421.74,502.79 C422.80,503.74 422.61,505.67 422.76,507.55 C422.91,509.42 433.63,512.59 422.64,514.01 C411.64,515.44 367.73,517.47 356.78,516.08 C345.82,514.70 355.98,507.61 356.90,505.68Z" fill="none" stroke="#151515" stroke-width="0.9" stroke-dasharray="2.6 0.9"/>
<path d="M363.33,508.23 C364.12,506.99 366.19,507.64 368.15,507.57 C370.11,507.51 372.46,507.89 375.09,507.83 C377.72,507.77 380.84,507.35 383.94,507.22 C387.03,507.08 390.37,507.27 393.65,507.03 C396.92,506.80 400.62,505.97 403.59,505.81 C406.56,505.64 409.42,505.95 411.46,506.02 C413.51,506.10 414.88,505.65 415.85,506.25 C416.83,506.85 417.22,508.32 417.33,509.61 C417.44,510.90 425.51,513.08 416.51,513.98 C407.52,514.88 372.25,515.95 363.38,514.99 C354.52,514.04 362.53,509.47 363.33,508.23Z" fill="none" stroke="#151515" stroke-width="0.9"/>
<path d="M372.10,510.78 C372.72,510.03 374.21,510.35 375.59,510.35 C376.98,510.35 378.54,510.78 380.43,510.78 C382.32,510.77 384.77,510.45 386.94,510.30 C389.11,510.15 391.25,510.03 393.43,509.90 C395.61,509.76 397.97,509.53 400.02,509.49 C402.07,509.45 404.32,509.70 405.73,509.67 C407.15,509.64 407.89,509.04 408.48,509.28 C409.07,509.53 409.24,510.30 409.28,511.13 C409.32,511.95 414.96,513.59 408.72,514.22 C402.49,514.85 377.99,515.47 371.89,514.89 C365.79,514.32 371.48,511.54 372.10,510.78Z" fill="none" stroke="#151515" stroke-width="0.9" stroke-dasharray="2.6 0.9"/>
<line x1="397.00" y1="511.50" x2="417.00" y2="511.50" stroke="#151515" stroke-width="1.4"/>
</g>
<clipPath id="c5"><rect x="27.90" y="536.50" width="98.00" height="71.60"/></clipPath><g clip-path="url(#c5)">
<path d="M27.86,585.72 C28.48,580.39 30.43,581.13 32.12,579.66 C33.82,578.19 35.94,577.42 38.03,576.89 C40.12,576.37 42.55,576.33 44.65,576.51 C46.75,576.68 48.96,577.25 50.63,577.95 C52.30,578.64 53.60,579.29 54.66,580.67 C55.71,582.06 56.77,584.24 56.94,586.26 C57.11,588.28 56.34,590.43 55.70,592.78 C55.06,595.13 53.87,597.67 53.10,600.36 C52.33,603.05 55.18,607.04 51.06,608.92 C46.94,610.80 32.25,615.50 28.38,611.64 C24.51,607.77 27.24,591.05 27.86,585.72Z" fill="none" stroke="#151515" stroke-width="0.9" stroke-dasharray="2.6 0.9"/>
<path d="M29.69,589.33 C30.17,584.67 31.20,585.25 32.56,584.03 C33.92,582.81 35.98,582.45 37.85,582.01 C39.71,581.57 41.86,581.31 43.76,581.40 C45.67,581.48 47.81,581.94 49.29,582.52 C50.77,583.09 51.88,583.73 52.66,584.85 C53.44,585.97 53.83,587.50 53.99,589.26 C54.15,591.03 54.16,593.40 53.62,595.46 C53.08,597.52 51.50,599.33 50.75,601.61 C50.00,603.88 52.66,607.38 49.14,609.12 C45.62,610.85 32.88,615.32 29.64,612.02 C26.39,608.72 29.20,594.00 29.69,589.33Z" fill="none" stroke="#151515" stroke-width="0.9"/>
<path d="M30.60,593.06 C31.07,589.28 32.44,590.10 33.70,588.98 C34.96,587.86 36.56,586.87 38.18,586.35 C39.80,585.83 41.91,585.67 43.42,585.85 C44.94,586.04 46.20,586.86 47.29,587.45 C48.38,588.04 49.29,588.44 49.96,589.39 C50.63,590.34 51.11,591.68 51.31,593.13 C51.51,594.59 51.54,596.47 51.17,598.10 C50.80,599.73 49.71,601.01 49.10,602.93 C48.49,604.85 50.56,608.18 47.52,609.64 C44.48,611.09 33.68,614.45 30.86,611.68 C28.04,608.92 30.12,596.84 30.60,593.06Z" fill="none" stroke="#151515" stroke-width="0.9" stroke-dasharray="2.6 0.9"/>
<path d="M32.47,596.86 C32.87,593.73 33.64,594.05 34.50,593.15 C35.36,592.25 36.37,591.74 37.65,591.44 C38.93,591.15 40.82,591.34 42.18,591.38 C43.54,591.43 44.87,591.30 45.80,591.69 C46.73,592.08 47.30,592.94 47.77,593.73 C48.24,594.53 48.57,595.38 48.64,596.47 C48.71,597.56 48.56,598.86 48.17,600.25 C47.79,601.65 46.84,603.27 46.35,604.83 C45.86,606.40 47.62,608.46 45.24,609.64 C42.87,610.81 34.24,614.01 32.11,611.88 C29.98,609.75 32.07,599.98 32.47,596.86Z" fill="none" stroke="#151515" stroke-width="0.9" stroke-dasharray="2.6 0.9"/>
<path d="M33.26,599.96 C33.58,597.65 34.57,598.27 35.40,597.67 C36.23,597.06 37.34,596.65 38.26,596.33 C39.17,596.01 40.01,595.68 40.90,595.75 C41.79,595.83 42.78,596.49 43.61,596.79 C44.43,597.08 45.43,597.02 45.85,597.52 C46.26,598.02 46.12,598.86 46.10,599.79 C46.08,600.71 45.94,602.04 45.71,603.07 C45.47,604.10 45.07,604.81 44.67,605.97 C44.27,607.13 45.19,609.13 43.32,610.06 C41.46,610.98 35.17,613.18 33.50,611.49 C31.82,609.81 32.95,602.26 33.26,599.96Z" fill="none" stroke="#151515" stroke-width="0.9"/>
<path d="M35.36,603.65 C35.63,602.11 35.75,602.33 36.21,601.79 C36.68,601.26 37.44,600.60 38.14,600.44 C38.84,600.29 39.74,600.72 40.42,600.87 C41.10,601.02 41.77,601.16 42.20,601.34 C42.63,601.51 42.82,601.54 43.01,601.92 C43.21,602.30 43.38,603.05 43.38,603.61 C43.39,604.16 43.24,604.62 43.05,605.25 C42.86,605.89 42.48,606.63 42.27,607.43 C42.05,608.23 43.05,609.44 41.77,610.04 C40.49,610.64 35.67,612.09 34.60,611.02 C33.53,609.96 35.09,605.19 35.36,603.65Z" fill="none" stroke="#151515" stroke-width="0.9" stroke-dasharray="2.6 0.9"/>
<path d="M54.80,592.70 C54.63,591.37 55.60,587.32 56.00,585.00 C56.40,582.68 56.53,580.17 57.20,578.80 C57.87,577.43 58.87,577.27 60.00,576.80 C61.13,576.33 62.67,576.30 64.00,576.00 C65.33,575.70 66.63,575.20 68.00,575.00 C69.37,574.80 71.12,574.47 72.20,574.80 C73.28,575.13 74.32,576.05 74.50,577.00 C74.68,577.95 73.97,579.25 73.30,580.50 C72.63,581.75 71.72,583.33 70.50,584.50 C69.28,585.67 67.65,586.42 66.00,587.50 C64.35,588.58 62.10,590.08 60.60,591.00 C59.10,591.92 57.97,592.72 57.00,593.00 C56.03,593.28 54.97,594.03 54.80,592.70Z" fill="none" stroke="#151515" stroke-width="0.9"/>
<path d="M58.50,588.00 C58.25,587.00 58.75,583.50 59.50,582.00 C60.25,580.50 61.58,579.70 63.00,579.00 C64.42,578.30 66.58,577.88 68.00,577.80 C69.42,577.72 71.08,577.72 71.50,578.50 C71.92,579.28 71.42,581.33 70.50,582.50 C69.58,583.67 67.58,584.58 66.00,585.50 C64.42,586.42 62.25,587.58 61.00,588.00 C59.75,588.42 58.75,589.00 58.50,588.00Z" fill="none" stroke="#151515" stroke-width="0.9" stroke-dasharray="2.5 0.8"/>
<path d="M64.23,582.90 C64.23,583.16 64.24,583.47 64.07,583.67 C63.90,583.86 63.50,583.93 63.20,584.07 C62.91,584.22 62.63,584.51 62.30,584.54 C61.97,584.58 61.55,584.42 61.24,584.28 C60.92,584.15 60.54,583.96 60.40,583.72 C60.25,583.49 60.35,583.15 60.39,582.90 C60.44,582.65 60.51,582.39 60.67,582.20 C60.84,582.00 61.12,581.83 61.39,581.72 C61.66,581.60 62.00,581.49 62.30,581.49 C62.60,581.49 62.91,581.62 63.20,581.72 C63.50,581.83 63.93,581.93 64.10,582.12 C64.27,582.32 64.23,582.64 64.23,582.90Z" fill="none" stroke="#151515" stroke-width="0.8"/>
<path d="M72.70,578.80 C72.71,579.16 72.73,579.57 72.66,579.92 C72.59,580.27 72.44,580.72 72.26,580.89 C72.08,581.06 71.81,580.96 71.60,580.93 C71.39,580.90 71.16,580.90 70.99,580.72 C70.83,580.55 70.70,580.19 70.59,579.87 C70.48,579.55 70.35,579.17 70.34,578.80 C70.33,578.43 70.41,577.98 70.52,577.66 C70.63,577.34 70.81,577.07 70.99,576.86 C71.17,576.65 71.39,576.40 71.60,576.39 C71.81,576.38 72.06,576.59 72.22,576.82 C72.39,577.04 72.53,577.40 72.61,577.73 C72.69,578.07 72.69,578.44 72.70,578.80Z" fill="none" stroke="#151515" stroke-width="0.8"/>
<line x1="59.00" y1="576.00" x2="70.00" y2="575.00" stroke="#151515" stroke-width="1.2"/>
<path d="M48.00,578.00 C48.83,578.08 51.50,578.17 53.00,578.50 C54.50,578.83 56.33,579.75 57.00,580.00" fill="none" stroke="#151515" stroke-width="0.9"/>
</g>
<clipPath id="c6"><rect x="131.80" y="536.50" width="98.50" height="71.60"/></clipPath><g clip-path="url(#c6)">
<path d="M131.97,595.90 C132.25,591.89 132.61,590.44 133.71,588.29 C134.82,586.14 136.50,584.44 138.61,583.00 C140.71,581.56 144.25,580.15 146.32,579.66 C148.39,579.18 149.99,579.05 151.04,580.09 C152.10,581.13 152.61,583.26 152.63,585.90 C152.65,588.55 151.90,592.99 151.16,595.96 C150.42,598.93 149.08,601.10 148.18,603.73 C147.28,606.35 148.49,610.25 145.79,611.69 C143.09,613.12 134.31,614.97 132.01,612.34 C129.70,609.71 131.69,599.91 131.97,595.90Z" fill="none" stroke="#151515" stroke-width="0.9" stroke-dasharray="2.6 0.9"/>
<path d="M133.67,598.62 C133.94,595.45 134.24,593.99 135.11,592.20 C135.98,590.40 137.24,588.90 138.88,587.83 C140.52,586.76 143.30,586.21 144.94,585.78 C146.58,585.35 147.86,584.54 148.74,585.27 C149.62,586.00 150.23,587.94 150.21,590.17 C150.19,592.40 149.30,596.16 148.62,598.65 C147.95,601.14 146.75,603.08 146.16,605.11 C145.57,607.14 147.21,609.83 145.10,610.84 C142.99,611.86 135.41,613.23 133.50,611.19 C131.60,609.16 133.41,601.79 133.67,598.62Z" fill="none" stroke="#151515" stroke-width="0.9" stroke-dasharray="2.6 0.9"/>
<path d="M134.82,600.74 C135.05,598.34 135.95,597.03 136.73,595.69 C137.50,594.35 138.32,593.39 139.48,592.70 C140.63,592.00 142.52,591.83 143.66,591.52 C144.81,591.20 145.73,590.25 146.36,590.81 C147.00,591.36 147.49,593.22 147.47,594.83 C147.44,596.44 146.66,598.62 146.21,600.47 C145.77,602.32 145.24,604.29 144.80,605.94 C144.35,607.58 145.12,609.63 143.54,610.32 C141.96,611.01 136.76,611.67 135.31,610.07 C133.86,608.48 134.58,603.14 134.82,600.74Z" fill="none" stroke="#151515" stroke-width="0.9"/>
<path d="M136.86,602.94 C136.99,601.39 137.29,601.18 137.69,600.37 C138.08,599.55 138.44,598.69 139.24,598.04 C140.04,597.40 141.66,596.66 142.49,596.52 C143.31,596.38 143.70,596.80 144.21,597.20 C144.73,597.59 145.54,597.84 145.60,598.90 C145.66,599.96 145.00,602.30 144.56,603.56 C144.13,604.83 143.41,605.50 142.99,606.49 C142.57,607.48 143.04,608.96 142.03,609.49 C141.03,610.02 137.80,610.76 136.94,609.67 C136.08,608.58 136.74,604.49 136.86,602.94Z" fill="none" stroke="#151515" stroke-width="0.9" stroke-dasharray="2.6 0.9"/>
<ellipse cx="137.50" cy="600.50" rx="4.00" ry="1.80" transform="rotate(0 137.50 600.50)" fill="none" stroke="#151515" stroke-width="0.9"/>
<path d="M153.00,592.00 C152.33,590.92 153.33,587.17 154.00,585.00 C154.67,582.83 155.50,580.50 157.00,579.00 C158.50,577.50 160.83,576.67 163.00,576.00 C165.17,575.33 168.17,574.92 170.00,575.00 C171.83,575.08 173.25,575.50 174.00,576.50 C174.75,577.50 175.00,579.58 174.50,581.00 C174.00,582.42 172.58,583.75 171.00,585.00 C169.42,586.25 167.17,587.42 165.00,588.50 C162.83,589.58 160.00,590.92 158.00,591.50 C156.00,592.08 153.67,593.08 153.00,592.00Z" fill="none" stroke="#151515" stroke-width="0.9"/>
<path d="M157.00,588.00 C156.67,587.08 157.17,584.42 158.00,583.00 C158.83,581.58 160.33,580.33 162.00,579.50 C163.67,578.67 166.33,578.08 168.00,578.00 C169.67,577.92 171.50,578.17 172.00,579.00 C172.50,579.83 172.00,581.83 171.00,583.00 C170.00,584.17 167.83,585.08 166.00,586.00 C164.17,586.92 161.50,588.17 160.00,588.50 C158.50,588.83 157.33,588.92 157.00,588.00Z" fill="none" stroke="#151515" stroke-width="0.9"/>
<path d="M161.00,585.00 C161.00,584.42 162.00,582.75 163.00,582.00 C164.00,581.25 165.92,580.58 167.00,580.50 C168.08,580.42 169.50,580.92 169.50,581.50 C169.50,582.08 168.08,583.33 167.00,584.00 C165.92,584.67 164.00,585.33 163.00,585.50 C162.00,585.67 161.00,585.58 161.00,585.00Z" fill="none" stroke="#151515" stroke-width="0.8"/>
<line x1="157.00" y1="576.30" x2="172.00" y2="575.60" stroke="#151515" stroke-width="1.4"/>
<ellipse cx="154.50" cy="592.00" rx="2.00" ry="1.60" transform="rotate(0 154.50 592.00)" fill="#151515" stroke="#151515" stroke-width="0.5"/>
<path d="M163.96,612.05 C157.33,610.53 164.67,605.64 166.34,602.97 C168.01,600.31 171.10,598.23 174.01,596.07 C176.91,593.91 180.73,591.57 183.75,590.01 C186.76,588.45 189.78,587.43 192.10,586.73 C194.43,586.04 195.91,585.42 197.68,585.84 C199.44,586.26 201.26,587.78 202.67,589.25 C204.09,590.71 205.45,592.45 206.15,594.63 C206.86,596.82 206.89,599.46 206.89,602.37 C206.88,605.28 213.28,610.48 206.12,612.09 C198.97,613.71 170.59,613.57 163.96,612.05Z" fill="none" stroke="#151515" stroke-width="0.9"/>
<path d="M168.53,611.45 C162.88,610.11 169.10,606.14 170.50,603.93 C171.91,601.72 174.50,599.96 176.95,598.19 C179.41,596.43 182.67,594.58 185.22,593.33 C187.78,592.08 190.25,591.23 192.27,590.69 C194.30,590.16 195.83,589.79 197.38,590.11 C198.92,590.44 200.45,591.44 201.56,592.65 C202.67,593.86 203.49,595.52 204.05,597.38 C204.60,599.25 204.85,601.40 204.90,603.84 C204.95,606.27 210.41,610.74 204.35,612.01 C198.29,613.28 174.17,612.80 168.53,611.45Z" fill="none" stroke="#151515" stroke-width="0.9" stroke-dasharray="2.6 0.9"/>
<path d="M173.45,611.46 C168.85,610.42 173.60,607.01 174.79,605.22 C175.98,603.43 178.50,602.15 180.61,600.72 C182.73,599.29 185.41,597.65 187.48,596.63 C189.54,595.61 191.53,595.09 193.01,594.62 C194.48,594.14 195.08,593.53 196.32,593.77 C197.56,594.00 199.41,594.97 200.45,596.02 C201.49,597.06 202.26,598.54 202.54,600.04 C202.83,601.53 202.19,603.07 202.16,604.98 C202.13,606.89 207.17,610.42 202.38,611.50 C197.60,612.58 178.05,612.51 173.45,611.46Z" fill="none" stroke="#151515" stroke-width="0.9" stroke-dasharray="2.6 0.9"/>
<path d="M178.07,611.39 C174.70,610.67 178.94,608.44 179.81,607.05 C180.68,605.65 181.85,604.22 183.29,603.00 C184.74,601.78 186.83,600.56 188.48,599.73 C190.13,598.90 191.92,598.30 193.20,598.00 C194.47,597.71 195.25,597.67 196.13,597.96 C197.00,598.25 197.80,598.94 198.43,599.75 C199.07,600.55 199.65,601.71 199.94,602.79 C200.24,603.88 200.18,604.83 200.19,606.26 C200.20,607.68 203.70,610.48 200.01,611.34 C196.32,612.19 181.44,612.10 178.07,611.39Z" fill="none" stroke="#151515" stroke-width="0.9"/>
<path d="M183.58,611.60 C181.18,611.10 183.26,609.44 183.76,608.43 C184.26,607.41 185.42,606.33 186.57,605.52 C187.72,604.70 189.62,604.04 190.68,603.55 C191.75,603.06 192.21,602.86 192.96,602.57 C193.71,602.28 194.46,601.74 195.21,601.81 C195.96,601.87 196.97,602.43 197.46,602.94 C197.95,603.46 198.04,604.08 198.16,604.90 C198.28,605.71 198.18,606.74 198.17,607.83 C198.16,608.92 200.55,610.81 198.11,611.44 C195.68,612.07 185.97,612.10 183.58,611.60Z" fill="none" stroke="#151515" stroke-width="0.9" stroke-dasharray="2.6 0.9"/>
<line x1="186.00" y1="606.50" x2="205.00" y2="606.50" stroke="#151515" stroke-width="1.3"/>
</g>
<clipPath id="c7"><rect x="244.00" y="536.50" width="97.30" height="71.60"/></clipPath><g clip-path="url(#c7)">
<path d="M244.00,596.00 C245.00,595.33 247.67,592.97 250.00,592.00 C252.33,591.03 255.00,590.53 258.00,590.20 C261.00,589.87 264.67,589.87 268.00,590.00 C271.33,590.13 275.00,590.33 278.00,591.00 C281.00,591.67 283.67,592.83 286.00,594.00 C288.33,595.17 289.67,596.83 292.00,598.00 C294.33,599.17 297.67,600.00 300.00,601.00 C302.33,602.00 304.33,602.67 306.00,604.00 C307.67,605.33 309.33,608.17 310.00,609.00" fill="none" stroke="#151515" stroke-width="0.9"/>
<path d="M244.00,601.00 C244.83,600.33 247.00,598.08 249.00,597.00 C251.00,595.92 253.17,595.00 256.00,594.50 C258.83,594.00 262.67,593.75 266.00,594.00 C269.33,594.25 273.00,595.00 276.00,596.00 C279.00,597.00 281.67,598.67 284.00,600.00 C286.33,601.33 288.33,602.50 290.00,604.00 C291.67,605.50 293.33,608.17 294.00,609.00" fill="none" stroke="#151515" stroke-width="0.9" stroke-dasharray="2.6 0.9"/>
<path d="M246.00,608.00 C246.67,607.17 248.00,604.33 250.00,603.00 C252.00,601.67 255.33,600.33 258.00,600.00 C260.67,599.67 263.67,600.17 266.00,601.00 C268.33,601.83 270.50,603.67 272.00,605.00 C273.50,606.33 274.50,608.33 275.00,609.00" fill="none" stroke="#151515" stroke-width="0.9"/>
<path d="M256.00,609.00 C256.50,608.42 257.67,606.17 259.00,605.50 C260.33,604.83 262.67,604.42 264.00,605.00 C265.33,605.58 266.50,608.33 267.00,609.00" fill="none" stroke="#151515" stroke-width="0.9" stroke-dasharray="2.6 0.9"/>
<line x1="254.00" y1="592.00" x2="263.00" y2="591.40" stroke="#151515" stroke-width="1.8"/>
<path d="M246.00,606.00 C246.33,605.00 246.67,601.42 248.00,600.00 C249.33,598.58 251.67,598.00 254.00,597.50 C256.33,597.00 259.33,596.83 262.00,597.00 C264.67,597.17 267.33,597.67 270.00,598.50 C272.67,599.33 275.83,600.75 278.00,602.00 C280.17,603.25 281.83,604.83 283.00,606.00 C284.17,607.17 284.67,608.50 285.00,609.00" fill="none" stroke="#151515" stroke-width="0.8" stroke-dasharray="2 0.8"/>
<path d="M262.00,609.00 C262.33,608.08 262.67,604.50 264.00,603.50 C265.33,602.50 268.00,602.75 270.00,603.00 C272.00,603.25 274.50,604.00 276.00,605.00 C277.50,606.00 278.50,608.33 279.00,609.00" fill="none" stroke="#151515" stroke-width="0.8"/>
<path d="M244.00,593.00 C244.67,592.67 246.50,591.50 248.00,591.00 C249.50,590.50 252.17,590.17 253.00,590.00" fill="none" stroke="#151515" stroke-width="1.2"/>
<path d="M281.00,609.00 C281.50,608.17 282.50,605.17 284.00,604.00 C285.50,602.83 288.00,602.00 290.00,602.00 C292.00,602.00 294.33,602.83 296.00,604.00 C297.67,605.17 299.33,608.17 300.00,609.00" fill="none" stroke="#151515" stroke-width="0.8" stroke-dasharray="2.6 0.9"/>
<path d="M260.00,577.00 C259.58,576.58 257.75,575.25 257.50,574.50 C257.25,573.75 257.75,572.67 258.50,572.50 C259.25,572.33 261.42,573.33 262.00,573.50" fill="none" stroke="#151515" stroke-width="0.8" stroke-dasharray="2.6 0.9"/>
<path d="M258.00,579.00 C258.67,578.92 260.67,579.17 262.00,578.50 C263.33,577.83 264.67,575.92 266.00,575.00 C267.33,574.08 268.50,572.92 270.00,573.00 C271.50,573.08 273.50,575.33 275.00,575.50 C276.50,575.67 277.67,574.67 279.00,574.00 C280.33,573.33 282.33,571.92 283.00,571.50" fill="none" stroke="#151515" stroke-width="0.8" stroke-dasharray="2.6 0.9"/>
<path d="M268.00,577.00 C268.67,577.20 270.83,578.10 272.00,578.20 C273.17,578.30 274.50,577.70 275.00,577.60" fill="none" stroke="#151515" stroke-width="0.8"/>
<path d="M278.00,598.00 C279.67,597.42 284.33,595.83 288.00,594.50 C291.67,593.17 296.00,591.50 300.00,590.00 C304.00,588.50 308.33,587.00 312.00,585.50 C315.67,584.00 319.17,582.33 322.00,581.00 C324.83,579.67 327.83,578.08 329.00,577.50" fill="none" stroke="#151515" stroke-width="0.8" stroke-dasharray="2.6 0.9"/>
<path d="M286.00,596.80 C288.00,596.10 294.00,593.97 298.00,592.60 C302.00,591.23 306.33,590.03 310.00,588.60 C313.67,587.17 317.17,585.35 320.00,584.00 C322.83,582.65 325.83,581.08 327.00,580.50" fill="none" stroke="#151515" stroke-width="0.8"/>
<path d="M272.00,603.50 C274.17,603.00 280.67,601.42 285.00,600.50 C289.33,599.58 293.83,598.75 298.00,598.00 C302.17,597.25 308.00,596.33 310.00,596.00" fill="none" stroke="#151515" stroke-width="0.8" stroke-dasharray="2.6 0.9"/>
<line x1="331.50" y1="578.00" x2="331.50" y2="589.00" stroke="#151515" stroke-width="0.9" stroke-dasharray="2.5 1"/>
<line x1="327.50" y1="583.00" x2="327.50" y2="590.00" stroke="#151515" stroke-width="0.9" stroke-dasharray="2.5 1"/>
<line x1="328.50" y1="593.00" x2="328.50" y2="600.00" stroke="#151515" stroke-width="0.9" stroke-dasharray="2 1"/>
<line x1="332.50" y1="592.00" x2="332.50" y2="600.00" stroke="#151515" stroke-width="0.9" stroke-dasharray="2 1"/>
<line x1="300.00" y1="606.50" x2="337.00" y2="606.50" stroke="#151515" stroke-width="1.2" stroke-dasharray="4 1"/>
<line x1="312.00" y1="604.50" x2="326.00" y2="604.50" stroke="#151515" stroke-width="1.0"/>
</g>
<clipPath id="c8"><rect x="348.10" y="536.50" width="97.80" height="71.60"/></clipPath><g clip-path="url(#c8)">
<path d="M348.00,592.00 C349.00,591.58 351.67,590.00 354.00,589.50 C356.33,589.00 359.33,588.83 362.00,589.00 C364.67,589.17 367.83,589.67 370.00,590.50 C372.17,591.33 373.83,592.42 375.00,594.00 C376.17,595.58 377.00,598.00 377.00,600.00 C377.00,602.00 375.67,604.50 375.00,606.00 C374.33,607.50 373.33,608.50 373.00,609.00" fill="none" stroke="#151515" stroke-width="0.8" stroke-dasharray="2.6 0.9"/>
<line x1="355.00" y1="589.60" x2="363.00" y2="589.40" stroke="#151515" stroke-width="1.4"/>
<path d="M360.92,598.13 C361.00,598.68 360.90,599.28 360.62,599.84 C360.34,600.40 359.90,601.15 359.22,601.51 C358.53,601.87 357.37,601.90 356.53,601.98 C355.68,602.06 354.92,602.08 354.13,601.99 C353.34,601.91 352.29,601.82 351.78,601.46 C351.28,601.11 351.12,600.41 351.10,599.86 C351.07,599.32 351.31,598.73 351.65,598.21 C351.99,597.70 352.50,597.14 353.14,596.77 C353.78,596.40 354.70,596.11 355.47,596.01 C356.25,595.91 357.00,596.06 357.78,596.15 C358.56,596.25 359.62,596.25 360.14,596.58 C360.67,596.91 360.84,597.59 360.92,598.13Z" fill="none" stroke="#151515" stroke-width="0.8"/>
<path d="M371.08,600.00 C371.08,600.60 369.93,601.14 369.51,601.80 C369.10,602.46 369.15,603.64 368.57,603.95 C367.98,604.27 366.80,603.77 366.00,603.69 C365.20,603.60 364.50,603.67 363.77,603.43 C363.05,603.19 361.98,602.81 361.64,602.24 C361.29,601.67 361.62,600.71 361.69,600.00 C361.77,599.29 361.71,598.51 362.09,598.00 C362.47,597.48 363.33,597.31 363.98,596.89 C364.63,596.46 365.23,595.59 366.00,595.45 C366.77,595.30 367.99,595.57 368.58,596.03 C369.16,596.49 369.10,597.54 369.51,598.20 C369.93,598.86 371.08,599.40 371.08,600.00Z" fill="none" stroke="#151515" stroke-width="0.8" stroke-dasharray="2.6 0.9"/>
<path d="M359.46,600.00 C359.42,600.26 359.21,600.49 359.03,600.75 C358.86,601.01 358.74,601.42 358.40,601.56 C358.06,601.70 357.42,601.65 357.00,601.59 C356.58,601.54 356.29,601.34 355.90,601.21 C355.52,601.09 354.85,601.06 354.67,600.86 C354.49,600.66 354.76,600.26 354.82,600.00 C354.88,599.74 354.85,599.47 355.03,599.27 C355.21,599.07 355.58,598.95 355.91,598.79 C356.24,598.64 356.59,598.39 357.00,598.34 C357.41,598.29 358.01,598.33 358.38,598.47 C358.75,598.61 359.06,598.92 359.24,599.17 C359.42,599.43 359.49,599.74 359.46,600.00Z" fill="none" stroke="#151515" stroke-width="0.8"/>
<path d="M349.00,606.00 C350.17,605.67 353.50,604.17 356.00,604.00 C358.50,603.83 361.67,604.50 364.00,605.00 C366.33,605.50 369.00,606.67 370.00,607.00" fill="none" stroke="#151515" stroke-width="0.8" stroke-dasharray="2.6 0.9"/>
<path d="M348.00,596.00 C348.67,595.58 350.00,594.08 352.00,593.50 C354.00,592.92 357.33,592.50 360.00,592.50 C362.67,592.50 365.83,592.75 368.00,593.50 C370.17,594.25 372.00,595.42 373.00,597.00 C374.00,598.58 374.17,601.00 374.00,603.00 C373.83,605.00 372.33,608.00 372.00,609.00" fill="none" stroke="#151515" stroke-width="0.8"/>
<path d="M372.38,601.00 C372.38,601.56 372.36,602.21 372.16,602.66 C371.96,603.11 371.53,603.37 371.17,603.69 C370.81,604.01 370.37,604.66 370.00,604.60 C369.63,604.55 369.37,603.66 368.97,603.37 C368.58,603.07 367.87,603.23 367.62,602.83 C367.36,602.44 367.43,601.60 367.45,601.00 C367.47,600.40 367.53,599.76 367.73,599.25 C367.94,598.75 368.31,598.17 368.69,597.98 C369.07,597.78 369.56,598.09 370.00,598.09 C370.44,598.08 370.95,597.76 371.31,597.96 C371.68,598.17 372.00,598.82 372.17,599.33 C372.35,599.83 372.39,600.44 372.38,601.00Z" fill="none" stroke="#151515" stroke-width="0.8"/>
<path d="M386.00,608.00 C385.83,606.83 384.33,603.00 385.00,601.00 C385.67,599.00 387.50,597.50 390.00,596.00 C392.50,594.50 396.33,593.50 400.00,592.00 C403.67,590.50 408.33,588.50 412.00,587.00 C415.67,585.50 419.17,583.92 422.00,583.00 C424.83,582.08 427.83,581.75 429.00,581.50" fill="none" stroke="#151515" stroke-width="0.8" stroke-dasharray="2.6 0.9"/>
<path d="M392.00,608.00 C392.17,607.00 391.67,603.58 393.00,602.00 C394.33,600.42 396.83,600.00 400.00,598.50 C403.17,597.00 408.50,594.67 412.00,593.00 C415.50,591.33 418.67,589.75 421.00,588.50 C423.33,587.25 425.17,586.00 426.00,585.50" fill="none" stroke="#151515" stroke-width="0.8"/>
<path d="M429.00,581.50 C429.17,582.58 430.17,585.92 430.00,588.00 C429.83,590.08 428.25,592.00 428.00,594.00 C427.75,596.00 428.17,598.17 428.50,600.00 C428.83,601.83 429.75,604.17 430.00,605.00" fill="none" stroke="#151515" stroke-width="0.8" stroke-dasharray="2.6 0.9"/>
<path d="M425.00,587.00 C425.08,588.17 425.67,591.83 425.50,594.00 C425.33,596.17 424.08,598.00 424.00,600.00 C423.92,602.00 424.83,605.00 425.00,606.00" fill="none" stroke="#151515" stroke-width="0.8" stroke-dasharray="2 1"/>
<line x1="402.00" y1="606.50" x2="437.00" y2="606.50" stroke="#151515" stroke-width="1.2" stroke-dasharray="5 1"/>
<line x1="404.00" y1="605.50" x2="414.00" y2="605.50" stroke="#151515" stroke-width="1.3"/>
<line x1="428.00" y1="605.50" x2="437.00" y2="605.50" stroke="#151515" stroke-width="1.3"/>
</g>
<clipPath id="c9"><rect x="31.10" y="707.40" width="120.90" height="80.90"/></clipPath><g clip-path="url(#c9)">
<path d="M53.00,735.50 C52.83,733.33 55.33,730.50 57.00,729.00 C58.67,727.50 60.50,727.00 63.00,726.50 C65.50,726.00 69.17,725.75 72.00,726.00 C74.83,726.25 78.08,727.00 80.00,728.00 C81.92,729.00 83.17,730.17 83.50,732.00 C83.83,733.83 83.25,737.17 82.00,739.00 C80.75,740.83 78.67,742.00 76.00,743.00 C73.33,744.00 69.00,745.17 66.00,745.00 C63.00,744.83 60.17,743.58 58.00,742.00 C55.83,740.42 53.17,737.67 53.00,735.50Z" fill="none" stroke="#1a1a1a" stroke-width="1.0"/>
<path d="M57.50,735.00 C57.33,733.33 58.58,731.17 60.00,730.00 C61.42,728.83 63.67,728.30 66.00,728.00 C68.33,727.70 71.75,727.70 74.00,728.20 C76.25,728.70 78.50,729.62 79.50,731.00 C80.50,732.38 80.58,734.83 80.00,736.50 C79.42,738.17 78.00,740.08 76.00,741.00 C74.00,741.92 70.50,742.17 68.00,742.00 C65.50,741.83 62.75,741.17 61.00,740.00 C59.25,738.83 57.67,736.67 57.50,735.00Z" fill="none" stroke="#1a1a1a" stroke-width="1.0"/>
<path d="M74.61,733.60 C74.62,734.42 74.56,735.37 74.02,736.07 C73.48,736.76 72.38,737.34 71.38,737.76 C70.38,738.17 69.15,738.55 68.00,738.58 C66.85,738.61 65.41,738.38 64.48,737.93 C63.55,737.48 62.91,736.60 62.44,735.88 C61.97,735.16 61.76,734.41 61.64,733.60 C61.51,732.79 61.19,731.70 61.70,731.02 C62.21,730.34 63.63,729.87 64.68,729.52 C65.73,729.17 66.83,728.99 68.00,728.91 C69.17,728.82 70.73,728.64 71.72,729.02 C72.71,729.40 73.47,730.40 73.95,731.16 C74.43,731.92 74.60,732.78 74.61,733.60Z" fill="none" stroke="#1a1a1a" stroke-width="1.0"/>
<path d="M62.00,744.00 C62.08,744.50 62.17,746.00 62.50,747.00 C62.83,748.00 63.75,749.50 64.00,750.00" fill="none" stroke="#1a1a1a" stroke-width="1.0"/>
<path d="M62.45,765.26 C62.84,766.11 62.69,767.33 62.17,768.39 C61.64,769.44 60.53,770.64 59.28,771.58 C58.02,772.51 56.26,773.48 54.62,774.01 C52.98,774.54 51.04,774.73 49.45,774.73 C47.86,774.73 45.99,774.58 45.06,774.01 C44.12,773.44 44.05,772.25 43.83,771.32 C43.61,770.38 43.34,769.44 43.74,768.41 C44.13,767.39 45.00,766.08 46.21,765.17 C47.43,764.26 49.37,763.52 51.04,762.98 C52.71,762.44 54.75,761.89 56.21,761.95 C57.68,762.00 58.79,762.76 59.83,763.31 C60.87,763.86 62.06,764.42 62.45,765.26Z" fill="none" stroke="#1a1a1a" stroke-width="1.0"/>
<path d="M67.71,761.87 C68.33,763.57 68.42,765.80 67.72,767.66 C67.02,769.53 65.28,771.57 63.51,773.05 C61.73,774.54 59.32,775.87 57.09,776.58 C54.86,777.30 52.40,777.39 50.12,777.36 C47.84,777.33 45.08,777.31 43.40,776.41 C41.72,775.50 40.66,773.62 40.02,771.94 C39.39,770.26 38.95,768.16 39.58,766.34 C40.21,764.52 42.11,762.62 43.83,761.03 C45.55,759.44 47.66,757.61 49.89,756.81 C52.12,756.02 54.86,756.17 57.20,756.28 C59.55,756.38 62.22,756.51 63.97,757.44 C65.72,758.37 67.08,760.16 67.71,761.87Z" fill="none" stroke="#1a1a1a" stroke-width="1.0" stroke-dasharray="3 1.2"/>
<path d="M65.15,763.92 C65.67,765.18 65.87,766.99 65.12,768.37 C64.36,769.75 62.15,770.93 60.61,772.19 C59.06,773.44 57.70,775.13 55.83,775.88 C53.95,776.62 51.19,776.90 49.37,776.65 C47.56,776.41 46.31,775.25 44.93,774.43 C43.56,773.61 41.68,772.93 41.10,771.73 C40.52,770.53 40.68,768.64 41.43,767.24 C42.19,765.83 44.08,764.56 45.60,763.30 C47.13,762.04 48.70,760.33 50.56,759.69 C52.43,759.05 54.89,759.31 56.79,759.49 C58.69,759.67 60.56,760.04 61.95,760.78 C63.34,761.52 64.62,762.65 65.15,763.92Z" fill="none" stroke="#1a1a1a" stroke-width="1.0"/>
<path d="M70.87,759.59 C71.61,761.62 71.38,764.24 70.70,766.53 C70.02,768.82 68.75,771.54 66.79,773.32 C64.83,775.10 61.63,776.12 58.94,777.19 C56.25,778.26 53.32,779.62 50.64,779.73 C47.96,779.85 44.87,779.08 42.89,777.88 C40.91,776.68 39.50,774.55 38.77,772.55 C38.05,770.55 37.83,768.05 38.52,765.87 C39.21,763.70 41.01,761.35 42.90,759.48 C44.78,757.61 47.26,755.77 49.83,754.65 C52.40,753.53 55.59,752.82 58.33,752.77 C61.07,752.71 64.20,753.21 66.29,754.35 C68.38,755.48 70.13,757.56 70.87,759.59Z" fill="none" stroke="#1a1a1a" stroke-width="1.0" stroke-dasharray="3 1.2"/>
<path d="M35.80,772.00 C35.80,769.67 35.80,764.83 37.00,762.00 C38.20,759.17 40.50,756.72 43.00,755.00 C45.50,753.28 48.83,752.12 52.00,751.70 C55.17,751.28 59.00,751.62 62.00,752.50 C65.00,753.38 68.22,754.92 70.00,757.00 C71.78,759.08 72.70,762.33 72.70,765.00 C72.70,767.67 71.62,770.67 70.00,773.00 C68.38,775.33 65.83,777.73 63.00,779.00 C60.17,780.27 56.50,780.60 53.00,780.60 C49.50,780.60 44.67,779.77 42.00,779.00 C39.33,778.23 38.03,777.17 37.00,776.00 C35.97,774.83 35.80,774.33 35.80,772.00Z" fill="none" stroke="#1a1a1a" stroke-width="1.0"/>
<path d="M32.30,768.00 C32.13,764.67 32.72,760.83 34.00,758.00 C35.28,755.17 38.00,752.62 40.00,751.00 C42.00,749.38 43.33,748.88 46.00,748.30 C48.67,747.72 53.17,747.47 56.00,747.50 C58.83,747.53 61.00,747.75 63.00,748.50 C65.00,749.25 66.17,750.42 68.00,752.00 C69.83,753.58 72.17,756.33 74.00,758.00 C75.83,759.67 77.33,761.67 79.00,762.00 C80.67,762.33 82.17,760.83 84.00,760.00 C85.83,759.17 87.33,757.70 90.00,757.00 C92.67,756.30 96.33,756.22 100.00,755.80 C103.67,755.38 108.50,754.72 112.00,754.50 C115.50,754.28 118.00,753.92 121.00,754.50 C124.00,755.08 127.53,756.38 130.00,758.00 C132.47,759.62 134.72,761.87 135.80,764.20 C136.88,766.53 136.38,769.03 136.50,772.00 C136.62,774.97 136.92,779.00 136.50,782.00 C136.08,785.00 146.75,788.67 134.00,790.00 C121.25,791.33 72.67,790.67 60.00,790.00 C47.33,789.33 58.67,787.17 58.00,786.00 C57.33,784.83 58.33,783.67 56.00,783.00 C53.67,782.33 47.50,782.83 44.00,782.00 C40.50,781.17 36.95,780.33 35.00,778.00 C33.05,775.67 32.47,771.33 32.30,768.00Z" fill="none" stroke="#1a1a1a" stroke-width="1.0"/>
<path d="M32.00,776.00 C32.67,775.33 34.67,771.83 36.00,772.00 C37.33,772.17 38.00,774.83 40.00,777.00 C42.00,779.17 45.67,783.17 48.00,785.00 C50.33,786.83 53.00,787.50 54.00,788.00" fill="none" stroke="#1a1a1a" stroke-width="1.0" stroke-dasharray="3 1.2"/>
<path d="M120.88,770.20 C120.89,771.30 120.23,772.50 119.55,773.53 C118.87,774.56 118.00,775.85 116.79,776.39 C115.58,776.93 113.79,776.80 112.30,776.78 C110.81,776.76 109.12,776.82 107.88,776.29 C106.63,775.77 105.46,774.65 104.82,773.63 C104.18,772.62 104.07,771.36 104.04,770.20 C104.02,769.04 103.98,767.64 104.67,766.70 C105.36,765.75 106.91,765.10 108.18,764.53 C109.46,763.96 110.92,763.27 112.30,763.27 C113.68,763.26 115.24,763.90 116.44,764.50 C117.63,765.11 118.74,765.95 119.48,766.90 C120.23,767.85 120.87,769.10 120.88,770.20Z" fill="none" stroke="#1a1a1a" stroke-width="1.0"/>
<path d="M126.01,770.70 C126.13,772.58 126.44,774.99 125.21,776.51 C123.99,778.02 120.95,778.89 118.66,779.80 C116.38,780.71 113.88,781.98 111.50,781.97 C109.12,781.96 106.47,780.74 104.37,779.75 C102.27,778.76 100.37,777.54 98.90,776.03 C97.44,774.52 95.59,772.47 95.60,770.70 C95.61,768.93 97.58,767.01 98.96,765.39 C100.34,763.78 101.78,761.95 103.87,761.01 C105.96,760.07 108.99,759.72 111.50,759.75 C114.01,759.79 116.79,760.32 118.96,761.23 C121.12,762.14 123.31,763.62 124.48,765.20 C125.66,766.78 125.89,768.82 126.01,770.70Z" fill="none" stroke="#1a1a1a" stroke-width="1.0" stroke-dasharray="3 1.2"/>
<path d="M88.00,772.00 C88.17,769.50 89.33,766.25 91.00,764.00 C92.67,761.75 95.17,759.75 98.00,758.50 C100.83,757.25 104.33,756.83 108.00,756.50 C111.67,756.17 116.67,756.00 120.00,756.50 C123.33,757.00 126.13,757.75 128.00,759.50 C129.87,761.25 130.70,764.25 131.20,767.00 C131.70,769.75 131.53,773.17 131.00,776.00 C130.47,778.83 131.50,782.33 128.00,784.00 C124.50,785.67 115.50,786.00 110.00,786.00 C104.50,786.00 98.33,785.17 95.00,784.00 C91.67,782.83 91.17,781.00 90.00,779.00 C88.83,777.00 87.83,774.50 88.00,772.00Z" fill="none" stroke="#1a1a1a" stroke-width="1.0"/>
<path d="M74.00,775.00 C74.83,774.33 77.33,771.83 79.00,771.00 C80.67,770.17 82.50,769.83 84.00,770.00 C85.50,770.17 87.33,771.67 88.00,772.00" fill="none" stroke="#1a1a1a" stroke-width="1.0"/>
<path d="M38.38,783.00 C38.38,783.33 38.24,783.71 38.03,783.97 C37.81,784.24 37.45,784.41 37.11,784.61 C36.78,784.80 36.37,785.15 36.00,785.15 C35.63,785.14 35.27,784.75 34.92,784.56 C34.57,784.37 34.17,784.26 33.92,784.00 C33.67,783.74 33.38,783.32 33.41,783.00 C33.44,782.68 33.87,782.38 34.10,782.08 C34.33,781.79 34.47,781.44 34.79,781.25 C35.10,781.06 35.62,780.92 36.00,780.95 C36.38,780.98 36.75,781.25 37.09,781.43 C37.43,781.61 37.81,781.76 38.03,782.02 C38.24,782.29 38.38,782.67 38.38,783.00Z" fill="none" stroke="#1a1a1a" stroke-width="0.9"/>
<polygon points="114.00,788.30 120.00,785.50 127.00,783.80 134.00,783.30 140.00,784.20 146.00,786.00 150.00,787.50 150.00,788.30" fill="#2a2a2a"/>
</g>
<clipPath id="c10"><rect x="160.80" y="707.40" width="119.40" height="80.90"/></clipPath><g clip-path="url(#c10)">
<path d="M204.45,734.10 C204.49,734.84 204.19,735.68 203.72,736.37 C203.25,737.07 202.51,737.89 201.61,738.26 C200.71,738.63 199.37,738.62 198.30,738.58 C197.23,738.53 196.10,738.37 195.20,738.00 C194.29,737.64 193.32,737.03 192.86,736.38 C192.39,735.73 192.40,734.86 192.41,734.10 C192.42,733.34 192.47,732.51 192.92,731.85 C193.37,731.18 194.24,730.53 195.14,730.12 C196.03,729.71 197.29,729.33 198.30,729.39 C199.31,729.44 200.33,730.03 201.20,730.46 C202.07,730.88 202.96,731.31 203.50,731.92 C204.04,732.53 204.42,733.36 204.45,734.10Z" fill="none" stroke="#1a1a1a" stroke-width="1.0"/>
<path d="M187.00,735.00 C186.83,733.00 188.33,730.33 190.00,729.00 C191.67,727.67 194.50,727.25 197.00,727.00 C199.50,726.75 203.23,726.50 205.00,727.50 C206.77,728.50 207.43,731.08 207.60,733.00 C207.77,734.92 207.43,737.53 206.00,739.00 C204.57,740.47 201.50,741.47 199.00,741.80 C196.50,742.13 193.00,742.13 191.00,741.00 C189.00,739.87 187.17,737.00 187.00,735.00Z" fill="none" stroke="#1a1a1a" stroke-width="1.0"/>
<path d="M183.10,737.00 C182.60,734.33 184.35,730.92 186.00,729.00 C187.65,727.08 190.17,726.15 193.00,725.50 C195.83,724.85 200.33,724.85 203.00,725.10 C205.67,725.35 207.70,725.52 209.00,727.00 C210.30,728.48 210.97,731.67 210.80,734.00 C210.63,736.33 209.30,739.17 208.00,741.00 C206.70,742.83 205.17,744.17 203.00,745.00 C200.83,745.83 197.33,746.00 195.00,746.00 C192.67,746.00 190.98,746.50 189.00,745.00 C187.02,743.50 183.60,739.67 183.10,737.00Z" fill="none" stroke="#1a1a1a" stroke-width="1.0"/>
<path d="M177.30,738.00 C178.47,736.17 178.55,733.00 180.00,731.00 C181.45,729.00 183.67,727.20 186.00,726.00 C188.33,724.80 190.67,724.17 194.00,723.80 C197.33,723.43 202.83,723.43 206.00,723.80 C209.17,724.17 211.45,724.80 213.00,726.00 C214.55,727.20 215.13,729.00 215.30,731.00 C215.47,733.00 215.05,735.83 214.00,738.00 C212.95,740.17 210.83,742.17 209.00,744.00 C207.17,745.83 204.67,747.00 203.00,749.00 C201.33,751.00 199.50,753.17 199.00,756.00 C198.50,758.83 199.53,762.67 200.00,766.00 C200.47,769.33 201.97,772.67 201.80,776.00 C201.63,779.33 200.13,783.67 199.00,786.00 C197.87,788.33 201.00,789.33 195.00,790.00 C189.00,790.67 168.73,791.50 163.00,790.00 C157.27,788.50 160.93,784.67 160.60,781.00 C160.27,777.33 160.60,771.83 161.00,768.00 C161.40,764.17 161.83,761.33 163.00,758.00 C164.17,754.67 166.33,750.67 168.00,748.00 C169.67,745.33 171.45,743.67 173.00,742.00 C174.55,740.33 176.13,739.83 177.30,738.00Z" fill="none" stroke="#1a1a1a" stroke-width="1.0"/>
<line x1="186.00" y1="724.60" x2="206.00" y2="724.40" stroke="#1a1a1a" stroke-width="1.8"/>
<path d="M212.00,728.00 C212.25,728.67 213.42,730.67 213.50,732.00 C213.58,733.33 212.42,734.67 212.50,736.00 C212.58,737.33 213.75,739.33 214.00,740.00" fill="none" stroke="#1a1a1a" stroke-width="0.9"/>
<path d="M185.82,760.38 C186.71,761.27 187.52,762.48 187.76,763.79 C187.99,765.10 187.84,766.87 187.24,768.24 C186.64,769.60 185.32,770.96 184.17,771.97 C183.02,772.98 181.67,773.77 180.33,774.32 C178.98,774.86 177.38,775.37 176.12,775.23 C174.85,775.08 173.71,774.26 172.76,773.44 C171.82,772.61 170.73,771.56 170.46,770.28 C170.19,769.00 170.56,767.19 171.14,765.76 C171.71,764.33 172.75,762.81 173.89,761.69 C175.03,760.58 176.56,759.62 177.98,759.08 C179.40,758.54 181.10,758.22 182.41,758.44 C183.72,758.65 184.93,759.48 185.82,760.38Z" fill="none" stroke="#1a1a1a" stroke-width="1.0"/>
<path d="M183.43,762.77 C183.97,763.33 184.51,764.03 184.64,764.85 C184.77,765.66 184.55,766.74 184.19,767.65 C183.84,768.56 183.23,769.54 182.51,770.31 C181.79,771.08 180.80,771.90 179.89,772.27 C178.97,772.64 177.79,772.75 177.01,772.53 C176.24,772.31 175.71,771.55 175.24,770.96 C174.78,770.36 174.37,769.73 174.23,768.97 C174.08,768.20 174.06,767.22 174.37,766.37 C174.68,765.52 175.40,764.67 176.09,763.89 C176.78,763.10 177.63,762.07 178.51,761.67 C179.39,761.27 180.56,761.31 181.38,761.49 C182.20,761.68 182.88,762.21 183.43,762.77Z" fill="none" stroke="#1a1a1a" stroke-width="0.8"/>
<path d="M166.40,770.00 C166.23,767.33 166.73,762.65 168.00,760.00 C169.27,757.35 171.67,755.18 174.00,754.10 C176.33,753.02 179.33,753.18 182.00,753.50 C184.67,753.82 188.20,754.25 190.00,756.00 C191.80,757.75 192.63,761.17 192.80,764.00 C192.97,766.83 192.13,770.57 191.00,773.00 C189.87,775.43 188.50,777.60 186.00,778.60 C183.50,779.60 178.83,779.43 176.00,779.00 C173.17,778.57 170.60,777.50 169.00,776.00 C167.40,774.50 166.57,772.67 166.40,770.00Z" fill="none" stroke="#1a1a1a" stroke-width="1.0" stroke-dasharray="3 1.2"/>
<path d="M164.40,772.00 C164.07,768.67 164.73,763.42 166.00,760.00 C167.27,756.58 169.50,753.23 172.00,751.50 C174.50,749.77 178.00,749.77 181.00,749.60 C184.00,749.43 187.67,749.27 190.00,750.50 C192.33,751.73 193.78,754.25 195.00,757.00 C196.22,759.75 197.30,763.67 197.30,767.00 C197.30,770.33 196.38,774.43 195.00,777.00 C193.62,779.57 192.17,781.40 189.00,782.40 C185.83,783.40 179.50,783.40 176.00,783.00 C172.50,782.60 169.93,781.83 168.00,780.00 C166.07,778.17 164.73,775.33 164.40,772.00Z" fill="none" stroke="#1a1a1a" stroke-width="1.0"/>
<path d="M172.00,750.00 C173.00,749.17 176.00,746.50 178.00,745.00 C180.00,743.50 182.00,741.50 184.00,741.00 C186.00,740.50 189.00,741.83 190.00,742.00" fill="none" stroke="#1a1a1a" stroke-width="1.0"/>
<line x1="241.00" y1="787.50" x2="250.50" y2="787.50" stroke="#1a1a1a" stroke-width="1.3"/>
</g>
<clipPath id="c11"><rect x="291.60" y="707.40" width="120.70" height="80.90"/></clipPath><g clip-path="url(#c11)">
<path d="M315.80,733.00 C315.97,731.58 317.13,730.22 319.00,729.50 C320.87,728.78 324.00,728.70 327.00,728.70 C330.00,728.70 334.45,728.78 337.00,729.50 C339.55,730.22 341.63,731.42 342.30,733.00 C342.97,734.58 342.22,737.17 341.00,739.00 C339.78,740.83 336.83,742.95 335.00,744.00 C333.17,745.05 331.83,745.47 330.00,745.30 C328.17,745.13 326.00,744.22 324.00,743.00 C322.00,741.78 319.37,739.67 318.00,738.00 C316.63,736.33 315.63,734.42 315.80,733.00Z" fill="none" stroke="#1a1a1a" stroke-width="1.0"/>
<path d="M318.70,734.00 C319.03,732.80 320.28,731.40 322.00,730.80 C323.72,730.20 326.67,730.28 329.00,730.40 C331.33,730.52 334.25,730.73 336.00,731.50 C337.75,732.27 339.33,733.58 339.50,735.00 C339.67,736.42 338.42,738.65 337.00,740.00 C335.58,741.35 333.17,742.93 331.00,743.10 C328.83,743.27 325.83,741.85 324.00,741.00 C322.17,740.15 320.88,739.17 320.00,738.00 C319.12,736.83 318.37,735.20 318.70,734.00Z" fill="none" stroke="#1a1a1a" stroke-width="1.0"/>
<path d="M334.76,736.00 C334.83,736.45 334.85,737.00 334.49,737.40 C334.13,737.80 333.34,738.18 332.59,738.42 C331.84,738.67 330.82,738.93 330.00,738.89 C329.18,738.85 328.34,738.46 327.66,738.19 C326.97,737.92 326.29,737.64 325.90,737.28 C325.52,736.91 325.35,736.43 325.35,736.00 C325.35,735.57 325.57,735.13 325.91,734.72 C326.25,734.32 326.70,733.76 327.38,733.55 C328.07,733.35 329.14,733.48 330.00,733.50 C330.86,733.52 331.84,733.44 332.52,733.65 C333.20,733.85 333.71,734.34 334.08,734.73 C334.46,735.12 334.69,735.55 334.76,736.00Z" fill="none" stroke="#1a1a1a" stroke-width="0.8"/>
<line x1="326.80" y1="746.50" x2="332.50" y2="746.50" stroke="#1a1a1a" stroke-width="1.4"/>
<path d="M323.07,767.64 C323.36,768.78 323.81,770.05 323.33,771.23 C322.85,772.40 321.51,773.71 320.19,774.71 C318.86,775.71 317.06,776.81 315.38,777.22 C313.70,777.62 311.70,777.38 310.12,777.12 C308.54,776.87 307.08,776.39 305.92,775.70 C304.76,775.01 303.54,774.05 303.17,772.97 C302.81,771.88 303.07,770.36 303.72,769.18 C304.38,768.00 305.76,766.84 307.09,765.88 C308.41,764.91 310.03,763.84 311.67,763.39 C313.32,762.94 315.28,763.01 316.93,763.17 C318.58,763.33 320.54,763.60 321.57,764.35 C322.59,765.09 322.78,766.49 323.07,767.64Z" fill="none" stroke="#1a1a1a" stroke-width="1.0"/>
<path d="M328.19,765.66 C328.56,767.39 327.01,769.65 326.18,771.56 C325.35,773.48 324.85,775.77 323.19,777.15 C321.53,778.52 318.64,779.09 316.23,779.79 C313.82,780.48 310.87,781.67 308.75,781.31 C306.63,780.95 305.13,778.95 303.49,777.65 C301.86,776.34 299.58,775.19 298.96,773.50 C298.33,771.80 298.95,769.39 299.74,767.47 C300.52,765.54 301.89,763.47 303.68,761.95 C305.47,760.43 308.12,758.85 310.48,758.34 C312.84,757.83 315.61,758.40 317.85,758.88 C320.09,759.36 322.19,760.09 323.92,761.23 C325.64,762.36 327.81,763.94 328.19,765.66Z" fill="none" stroke="#1a1a1a" stroke-width="1.0" stroke-dasharray="3 1.2"/>
<path d="M295.60,772.00 C295.43,769.17 295.77,764.67 297.00,762.00 C298.23,759.33 300.33,757.23 303.00,756.00 C305.67,754.77 309.67,754.68 313.00,754.60 C316.33,754.52 320.17,754.60 323.00,755.50 C325.83,756.40 328.70,757.58 330.00,760.00 C331.30,762.42 331.30,766.83 330.80,770.00 C330.30,773.17 329.13,776.57 327.00,779.00 C324.87,781.43 321.67,783.77 318.00,784.60 C314.33,785.43 308.33,784.93 305.00,784.00 C301.67,783.07 299.57,781.00 298.00,779.00 C296.43,777.00 295.77,774.83 295.60,772.00Z" fill="none" stroke="#1a1a1a" stroke-width="1.0"/>
<path d="M293.30,768.00 C293.63,764.00 293.55,760.67 295.00,758.00 C296.45,755.33 299.17,753.25 302.00,752.00 C304.83,750.75 308.67,750.83 312.00,750.50 C315.33,750.17 319.00,749.58 322.00,750.00 C325.00,750.42 327.57,751.33 330.00,753.00 C332.43,754.67 334.93,757.83 336.60,760.00 C338.27,762.17 338.43,765.93 340.00,766.00 C341.57,766.07 343.50,761.60 346.00,760.40 C348.50,759.20 351.67,759.53 355.00,758.80 C358.33,758.07 362.42,756.63 366.00,756.00 C369.58,755.37 372.83,754.67 376.50,755.00 C380.17,755.33 384.67,756.33 388.00,758.00 C391.33,759.67 395.00,762.00 396.50,765.00 C398.00,768.00 396.92,771.83 397.00,776.00 C397.08,780.17 406.50,787.67 397.00,790.00 C387.50,792.33 350.07,791.00 340.00,790.00 C329.93,789.00 337.60,786.33 336.60,784.00 C335.60,781.67 335.77,775.67 334.00,776.00 C332.23,776.33 329.00,783.67 326.00,786.00 C323.00,788.33 321.00,789.33 316.00,790.00 C311.00,790.67 299.83,791.33 296.00,790.00 C292.17,788.67 293.45,785.67 293.00,782.00 C292.55,778.33 292.97,772.00 293.30,768.00Z" fill="none" stroke="#1a1a1a" stroke-width="1.0"/>
<path d="M383.31,771.50 C383.37,772.55 382.95,773.81 382.14,774.74 C381.33,775.67 379.88,776.53 378.44,777.06 C377.00,777.60 375.15,777.95 373.50,777.95 C371.85,777.95 370.04,777.58 368.56,777.06 C367.09,776.54 365.44,775.75 364.65,774.82 C363.86,773.90 363.83,772.61 363.84,771.50 C363.84,770.39 363.84,769.06 364.68,768.19 C365.51,767.31 367.37,766.76 368.84,766.26 C370.31,765.76 371.91,765.22 373.50,765.18 C375.09,765.14 377.01,765.46 378.38,766.00 C379.76,766.54 380.91,767.50 381.73,768.41 C382.55,769.33 383.24,770.45 383.31,771.50Z" fill="none" stroke="#1a1a1a" stroke-width="1.0" stroke-dasharray="3 1.2"/>
<path d="M355.00,771.00 C355.17,768.83 356.17,765.77 358.00,764.00 C359.83,762.23 362.67,761.00 366.00,760.40 C369.33,759.80 374.67,759.97 378.00,760.40 C381.33,760.83 384.33,761.23 386.00,763.00 C387.67,764.77 388.00,768.50 388.00,771.00 C388.00,773.50 387.67,776.18 386.00,778.00 C384.33,779.82 381.67,781.32 378.00,781.90 C374.33,782.48 367.50,782.32 364.00,781.50 C360.50,780.68 358.50,778.75 357.00,777.00 C355.50,775.25 354.83,773.17 355.00,771.00Z" fill="none" stroke="#1a1a1a" stroke-width="1.0"/>
<path d="M348.80,772.00 C348.80,769.00 349.13,764.42 351.00,762.00 C352.87,759.58 356.50,758.42 360.00,757.50 C363.50,756.58 367.67,756.42 372.00,756.50 C376.33,756.58 382.50,756.92 386.00,758.00 C389.50,759.08 391.63,760.67 393.00,763.00 C394.37,765.33 394.37,769.00 394.20,772.00 C394.03,775.00 393.70,778.83 392.00,781.00 C390.30,783.17 389.33,784.33 384.00,785.00 C378.67,785.67 365.50,785.83 360.00,785.00 C354.50,784.17 352.87,782.17 351.00,780.00 C349.13,777.83 348.80,775.00 348.80,772.00Z" fill="none" stroke="#1a1a1a" stroke-width="1.0"/>
<path d="M296.11,783.50 C296.14,783.80 296.09,784.17 295.92,784.46 C295.75,784.74 295.44,785.07 295.10,785.20 C294.76,785.33 294.29,785.23 293.90,785.22 C293.51,785.21 293.07,785.27 292.74,785.14 C292.41,785.01 292.10,784.71 291.92,784.44 C291.73,784.16 291.59,783.79 291.63,783.50 C291.67,783.21 291.93,782.91 292.14,782.67 C292.36,782.43 292.61,782.24 292.90,782.09 C293.20,781.93 293.54,781.78 293.90,781.74 C294.26,781.70 294.75,781.71 295.05,781.86 C295.36,782.01 295.53,782.37 295.71,782.64 C295.89,782.92 296.07,783.20 296.11,783.50Z" fill="none" stroke="#1a1a1a" stroke-width="0.8"/>
<polygon points="376.50,788.30 383.00,786.00 392.00,784.50 400.00,784.80 406.00,786.50 409.00,788.30" fill="#2a2a2a"/>
</g>
<clipPath id="c12"><rect x="31.20" y="814.20" width="120.20" height="81.20"/></clipPath><g clip-path="url(#c12)">
<path d="M77.43,841.27 C77.56,841.76 77.79,842.34 77.55,842.83 C77.32,843.32 76.66,843.87 76.04,844.23 C75.42,844.58 74.55,844.85 73.82,844.94 C73.08,845.03 72.35,844.89 71.64,844.78 C70.92,844.67 70.02,844.61 69.51,844.28 C69.01,843.95 68.65,843.34 68.60,842.83 C68.54,842.32 68.85,841.70 69.19,841.20 C69.53,840.70 70.03,840.16 70.63,839.83 C71.23,839.50 72.10,839.28 72.81,839.20 C73.52,839.12 74.23,839.23 74.89,839.34 C75.55,839.46 76.36,839.58 76.79,839.90 C77.21,840.22 77.31,840.78 77.43,841.27Z" fill="none" stroke="#1a1a1a" stroke-width="1.0"/>
<path d="M46.58,878.10 C46.57,878.35 46.22,878.63 46.01,878.84 C45.79,879.05 45.57,879.18 45.30,879.35 C45.04,879.52 44.71,879.85 44.40,879.86 C44.09,879.87 43.73,879.57 43.46,879.40 C43.20,879.23 42.99,879.06 42.80,878.84 C42.61,878.62 42.35,878.35 42.34,878.10 C42.33,877.85 42.56,877.57 42.72,877.32 C42.89,877.08 43.04,876.73 43.32,876.61 C43.60,876.48 44.04,876.59 44.40,876.59 C44.76,876.58 45.21,876.46 45.49,876.59 C45.77,876.71 45.89,877.08 46.07,877.33 C46.25,877.58 46.59,877.85 46.58,878.10Z" fill="none" stroke="#1a1a1a" stroke-width="0.9"/>
<path d="M36.90,878.00 C36.98,876.17 36.82,873.33 38.00,872.00 C39.18,870.67 41.83,870.33 44.00,870.00 C46.17,869.67 49.20,869.17 51.00,870.00 C52.80,870.83 54.47,873.00 54.80,875.00 C55.13,877.00 54.13,880.13 53.00,882.00 C51.87,883.87 50.00,885.53 48.00,886.20 C46.00,886.87 42.75,886.53 41.00,886.00 C39.25,885.47 38.18,884.33 37.50,883.00 C36.82,881.67 36.82,879.83 36.90,878.00Z" fill="none" stroke="#1a1a1a" stroke-width="1.0"/>
<path d="M34.00,880.00 C33.83,877.50 34.00,873.25 35.00,871.00 C36.00,868.75 37.50,867.25 40.00,866.50 C42.50,865.75 47.17,866.25 50.00,866.50 C52.83,866.75 55.43,866.58 57.00,868.00 C58.57,869.42 59.40,872.33 59.40,875.00 C59.40,877.67 58.23,881.47 57.00,884.00 C55.77,886.53 54.50,889.20 52.00,890.20 C49.50,891.20 44.67,890.70 42.00,890.00 C39.33,889.30 37.33,887.67 36.00,886.00 C34.67,884.33 34.17,882.50 34.00,880.00Z" fill="none" stroke="#1a1a1a" stroke-width="1.0"/>
<path d="M31.70,882.00 C31.87,877.83 31.95,874.67 33.00,872.00 C34.05,869.33 36.17,867.38 38.00,866.00 C39.83,864.62 41.67,864.08 44.00,863.70 C46.33,863.32 49.33,863.65 52.00,863.70 C54.67,863.75 58.00,863.28 60.00,864.00 C62.00,864.72 63.23,866.00 64.00,868.00 C64.77,870.00 64.93,873.33 64.60,876.00 C64.27,878.67 63.10,881.67 62.00,884.00 C60.90,886.33 59.33,887.83 58.00,890.00 C56.67,892.17 58.33,895.83 54.00,897.00 C49.67,898.17 35.72,899.50 32.00,897.00 C28.28,894.50 31.53,886.17 31.70,882.00Z" fill="none" stroke="#1a1a1a" stroke-width="1.0"/>
<line x1="43.00" y1="864.80" x2="58.00" y2="864.60" stroke="#1a1a1a" stroke-width="1.5"/>
<path d="M31.50,868.00 L35.00,866.00" fill="none" stroke="#1a1a1a" stroke-width="1.0"/>
<path d="M31.50,874.00 L35.50,871.00" fill="none" stroke="#1a1a1a" stroke-width="1.0"/>
<path d="M114.35,879.80 C114.44,880.56 114.13,881.55 113.73,882.24 C113.32,882.93 112.61,883.74 111.90,883.96 C111.20,884.18 110.27,883.62 109.50,883.56 C108.73,883.51 107.90,883.90 107.29,883.63 C106.68,883.35 106.22,882.54 105.86,881.90 C105.51,881.26 105.11,880.47 105.16,879.80 C105.22,879.13 105.79,878.45 106.19,877.89 C106.59,877.33 107.00,876.81 107.55,876.42 C108.10,876.03 108.85,875.58 109.50,875.57 C110.15,875.57 110.86,876.04 111.47,876.39 C112.08,876.74 112.69,877.11 113.17,877.68 C113.65,878.25 114.26,879.04 114.35,879.80Z" fill="none" stroke="#1a1a1a" stroke-width="1.0"/>
<path d="M98.50,882.00 C98.50,879.67 98.75,875.98 100.00,874.00 C101.25,872.02 103.33,870.75 106.00,870.10 C108.67,869.45 113.33,869.62 116.00,870.10 C118.67,870.58 120.67,871.35 122.00,873.00 C123.33,874.65 124.00,877.67 124.00,880.00 C124.00,882.33 123.33,885.28 122.00,887.00 C120.67,888.72 118.67,889.75 116.00,890.30 C113.33,890.85 108.67,890.68 106.00,890.30 C103.33,889.92 101.25,889.38 100.00,888.00 C98.75,886.62 98.50,884.33 98.50,882.00Z" fill="none" stroke="#1a1a1a" stroke-width="1.0"/>
<path d="M93.70,885.00 C93.87,881.17 93.95,876.67 95.00,874.00 C96.05,871.33 97.50,870.10 100.00,869.00 C102.50,867.90 106.67,867.57 110.00,867.40 C113.33,867.23 117.33,867.40 120.00,868.00 C122.67,868.60 124.65,869.33 126.00,871.00 C127.35,872.67 127.93,875.50 128.10,878.00 C128.27,880.50 127.68,883.67 127.00,886.00 C126.32,888.33 124.83,890.17 124.00,892.00 C123.17,893.83 127.00,896.17 122.00,897.00 C117.00,897.83 98.72,899.00 94.00,897.00 C89.28,895.00 93.53,888.83 93.70,885.00Z" fill="none" stroke="#1a1a1a" stroke-width="1.0"/>
<polygon points="106.00,895.40 114.00,893.80 122.00,892.00 129.00,890.60 136.00,890.40 142.00,891.80 147.00,894.00 148.50,895.40" fill="#262626"/>
<path d="M100.00,894.60 C102.00,894.20 108.00,893.03 112.00,892.20 C116.00,891.37 120.33,890.17 124.00,889.60 C127.67,889.03 131.00,888.73 134.00,888.80 C137.00,888.87 140.67,889.80 142.00,890.00" fill="none" stroke="#1a1a1a" stroke-width="0.8"/>
</g>
<clipPath id="c13"><rect x="160.70" y="813.80" width="119.70" height="81.60"/></clipPath><g clip-path="url(#c13)">
<path d="M183.60,838.10 C183.95,836.80 185.43,835.78 187.00,835.00 C188.57,834.22 190.33,833.70 193.00,833.40 C195.67,833.10 199.87,833.20 203.00,833.20 C206.13,833.20 209.55,832.82 211.80,833.40 C214.05,833.98 216.13,835.27 216.50,836.70 C216.87,838.13 215.00,840.32 214.00,842.00 C213.00,843.68 212.00,845.30 210.50,846.80 C209.00,848.30 206.80,849.98 205.00,851.00 C203.20,852.02 201.70,852.90 199.70,852.90 C197.70,852.90 194.57,851.78 193.00,851.00 C191.43,850.22 191.65,849.57 190.30,848.20 C188.95,846.83 186.02,844.48 184.90,842.80 C183.78,841.12 183.25,839.40 183.60,838.10Z" fill="none" stroke="#1a1a1a" stroke-width="1.0"/>
<path d="M192.30,842.00 C192.47,840.33 193.22,838.10 195.00,837.00 C196.78,835.90 200.17,835.57 203.00,835.40 C205.83,835.23 209.97,835.23 212.00,836.00 C214.03,836.77 215.03,838.33 215.20,840.00 C215.37,841.67 214.37,844.30 213.00,846.00 C211.63,847.70 209.50,849.62 207.00,850.20 C204.50,850.78 200.17,850.03 198.00,849.50 C195.83,848.97 194.95,848.25 194.00,847.00 C193.05,845.75 192.13,843.67 192.30,842.00Z" fill="none" stroke="#1a1a1a" stroke-width="1.0"/>
<path d="M196.40,842.00 C196.57,840.75 197.40,838.88 199.00,838.00 C200.60,837.12 203.83,836.78 206.00,836.70 C208.17,836.62 210.80,836.78 212.00,837.50 C213.20,838.22 213.53,839.67 213.20,841.00 C212.87,842.33 211.70,844.53 210.00,845.50 C208.30,846.47 205.00,846.80 203.00,846.80 C201.00,846.80 199.10,846.30 198.00,845.50 C196.90,844.70 196.23,843.25 196.40,842.00Z" fill="none" stroke="#1a1a1a" stroke-width="1.0"/>
<path d="M209.51,841.50 C209.51,841.99 209.34,842.52 208.99,842.98 C208.65,843.43 208.11,843.90 207.45,844.21 C206.78,844.52 205.79,844.84 205.00,844.82 C204.21,844.79 203.35,844.38 202.68,844.07 C202.01,843.76 201.41,843.40 201.01,842.98 C200.60,842.55 200.36,842.03 200.27,841.50 C200.18,840.97 200.05,840.25 200.45,839.82 C200.85,839.39 201.92,839.20 202.68,838.92 C203.44,838.65 204.18,838.19 205.00,838.15 C205.82,838.10 206.91,838.33 207.58,838.64 C208.25,838.95 208.69,839.54 209.02,840.02 C209.34,840.49 209.52,841.01 209.51,841.50Z" fill="none" stroke="#1a1a1a" stroke-width="1.0"/>
<path d="M177.77,879.10 C177.67,880.44 177.57,881.80 177.09,882.92 C176.61,884.04 175.78,885.03 174.90,885.81 C174.02,886.59 172.85,887.58 171.80,887.61 C170.75,887.65 169.56,886.75 168.60,886.02 C167.65,885.30 166.53,884.39 166.06,883.24 C165.60,882.09 165.78,880.46 165.81,879.10 C165.84,877.74 165.81,876.31 166.25,875.09 C166.69,873.88 167.50,872.46 168.42,871.79 C169.35,871.12 170.67,871.09 171.80,871.07 C172.93,871.05 174.25,871.05 175.23,871.68 C176.21,872.31 177.26,873.62 177.68,874.86 C178.10,876.09 177.87,877.76 177.77,879.10Z" fill="none" stroke="#1a1a1a" stroke-width="1.0" stroke-dasharray="3 1.2"/>
<path d="M162.70,880.00 C162.78,877.33 162.78,873.17 164.00,871.00 C165.22,868.83 167.67,867.67 170.00,867.00 C172.33,866.33 175.83,866.33 178.00,867.00 C180.17,867.67 182.07,868.83 183.00,871.00 C183.93,873.17 183.93,877.17 183.60,880.00 C183.27,882.83 182.43,886.12 181.00,888.00 C179.57,889.88 177.33,890.80 175.00,891.30 C172.67,891.80 168.92,891.72 167.00,891.00 C165.08,890.28 164.22,888.83 163.50,887.00 C162.78,885.17 162.62,882.67 162.70,880.00Z" fill="none" stroke="#1a1a1a" stroke-width="1.0"/>
<path d="M161.40,880.00 C161.40,875.50 160.90,872.67 162.00,870.00 C163.10,867.33 165.33,865.17 168.00,864.00 C170.67,862.83 175.00,862.83 178.00,863.00 C181.00,863.17 184.17,863.50 186.00,865.00 C187.83,866.50 188.67,869.17 189.00,872.00 C189.33,874.83 188.83,879.00 188.00,882.00 C187.17,885.00 185.33,887.50 184.00,890.00 C182.67,892.50 183.67,895.83 180.00,897.00 C176.33,898.17 165.10,899.83 162.00,897.00 C158.90,894.17 161.40,884.50 161.40,880.00Z" fill="none" stroke="#1a1a1a" stroke-width="1.0" stroke-dasharray="3 1.2"/>
<path d="M160.00,876.00 C160.17,870.83 160.00,868.33 161.00,866.00 C162.00,863.67 163.50,862.95 166.00,862.00 C168.50,861.05 172.67,860.47 176.00,860.30 C179.33,860.13 183.33,860.22 186.00,861.00 C188.67,861.78 190.62,863.17 192.00,865.00 C193.38,866.83 194.13,869.33 194.30,872.00 C194.47,874.67 193.72,878.17 193.00,881.00 C192.28,883.83 191.00,886.33 190.00,889.00 C189.00,891.67 192.00,895.67 187.00,897.00 C182.00,898.33 164.50,900.50 160.00,897.00 C155.50,893.50 159.83,881.17 160.00,876.00Z" fill="none" stroke="#1a1a1a" stroke-width="1.0"/>
</g>
<clipPath id="c14"><rect x="292.10" y="814.20" width="120.80" height="81.20"/></clipPath><g clip-path="url(#c14)">
<path d="M320.80,842.00 C320.63,839.92 320.80,837.68 322.00,836.50 C323.20,835.32 325.50,835.17 328.00,834.90 C330.50,834.63 334.53,834.55 337.00,834.90 C339.47,835.25 341.88,835.32 342.80,837.00 C343.72,838.68 342.97,842.92 342.50,845.00 C342.03,847.08 341.92,848.58 340.00,849.50 C338.08,850.42 333.83,850.58 331.00,850.50 C328.17,850.42 324.70,850.42 323.00,849.00 C321.30,847.58 320.97,844.08 320.80,842.00Z" fill="none" stroke="#1a1a1a" stroke-width="1.0" stroke-dasharray="3 1.2"/>
<path d="M324.60,842.00 C324.43,840.42 324.77,838.75 326.00,838.00 C327.23,837.25 330.00,837.50 332.00,837.50 C334.00,837.50 336.63,837.25 338.00,838.00 C339.37,838.75 340.03,840.50 340.20,842.00 C340.37,843.50 340.20,845.93 339.00,847.00 C337.80,848.07 335.00,848.32 333.00,848.40 C331.00,848.48 328.40,848.57 327.00,847.50 C325.60,846.43 324.77,843.58 324.60,842.00Z" fill="none" stroke="#1a1a1a" stroke-width="1.0"/>
<path d="M332.80,842.70 L335.50,842.50" fill="none" stroke="#1a1a1a" stroke-width="1.2"/>
<path d="M331.06,855.70 C331.04,855.95 330.95,856.21 330.81,856.41 C330.68,856.61 330.47,856.76 330.25,856.91 C330.03,857.06 329.76,857.31 329.50,857.32 C329.24,857.34 328.93,857.16 328.69,857.02 C328.45,856.88 328.20,856.70 328.06,856.48 C327.93,856.26 327.87,855.95 327.88,855.70 C327.90,855.45 328.02,855.19 328.15,854.97 C328.28,854.74 328.44,854.47 328.66,854.34 C328.89,854.21 329.22,854.18 329.50,854.18 C329.78,854.17 330.11,854.20 330.34,854.33 C330.58,854.45 330.81,854.70 330.93,854.93 C331.05,855.15 331.08,855.45 331.06,855.70Z" fill="none" stroke="#1a1a1a" stroke-width="0.8"/>
<path d="M292.00,874.50 C292.83,874.05 295.00,872.52 297.00,871.80 C299.00,871.08 301.17,870.43 304.00,870.20 C306.83,869.97 310.52,870.37 314.00,870.40 C317.48,870.43 322.07,870.22 324.90,870.40 C327.73,870.58 328.73,871.07 331.00,871.50 C333.27,871.93 337.25,872.75 338.50,873.00" fill="none" stroke="#1a1a1a" stroke-width="1.0"/>
<path d="M300.00,871.00 C300.50,870.50 302.17,868.80 303.00,868.00 C303.83,867.20 304.67,866.50 305.00,866.20" fill="none" stroke="#1a1a1a" stroke-width="1.0"/>
<path d="M316.00,866.80 L324.00,866.60" fill="none" stroke="#1a1a1a" stroke-width="1.1"/>
<path d="M325.50,867.50 C325.92,866.92 326.92,864.83 328.00,864.00 C329.08,863.17 330.75,862.42 332.00,862.50 C333.25,862.58 334.42,863.83 335.50,864.50 C336.58,865.17 338.00,866.17 338.50,866.50" fill="none" stroke="#1a1a1a" stroke-width="1.0"/>
<path d="M292.00,878.00 C292.67,877.50 294.67,875.58 296.00,875.00 C297.33,874.42 298.50,874.67 300.00,874.50 C301.50,874.33 304.17,874.08 305.00,874.00" fill="none" stroke="#1a1a1a" stroke-width="1.0" stroke-dasharray="3 1.2"/>
<path d="M293.00,890.00 C293.33,888.67 294.00,884.08 295.00,882.00 C296.00,879.92 297.50,878.42 299.00,877.50 C300.50,876.58 302.42,876.17 304.00,876.50 C305.58,876.83 307.42,877.92 308.50,879.50 C309.58,881.08 310.17,883.75 310.50,886.00 C310.83,888.25 310.50,891.83 310.50,893.00" fill="none" stroke="#1a1a1a" stroke-width="1.0" stroke-dasharray="3 1.2"/>
<path d="M311.50,896.00 C311.92,894.33 313.50,889.17 314.00,886.00 C314.50,882.83 314.75,879.25 314.50,877.00 C314.25,874.75 312.83,873.25 312.50,872.50" fill="none" stroke="#1a1a1a" stroke-width="1.0"/>
<path d="M314.50,872.80 C315.17,873.33 317.50,874.13 318.50,876.00 C319.50,877.87 320.33,880.67 320.50,884.00 C320.67,887.33 319.67,894.00 319.50,896.00" fill="none" stroke="#1a1a1a" stroke-width="1.0"/>
<path d="M318.50,871.50 C319.17,872.08 321.50,872.92 322.50,875.00 C323.50,877.08 324.33,880.50 324.50,884.00 C324.67,887.50 323.67,894.00 323.50,896.00" fill="none" stroke="#1a1a1a" stroke-width="1.0"/>
<path d="M325.50,896.00 C325.75,894.67 326.17,890.17 327.00,888.00 C327.83,885.83 329.17,884.25 330.50,883.00 C331.83,881.75 333.75,881.17 335.00,880.50 C336.25,879.83 337.50,879.25 338.00,879.00" fill="none" stroke="#1a1a1a" stroke-width="1.0" stroke-dasharray="3 1.2"/>
<path d="M331.50,896.00 C331.67,895.17 331.75,892.25 332.50,891.00 C333.25,889.75 334.83,888.75 336.00,888.50 C337.17,888.25 338.83,888.25 339.50,889.50 C340.17,890.75 339.92,894.92 340.00,896.00" fill="none" stroke="#1a1a1a" stroke-width="1.0"/>
<path d="M295.00,884.00 L299.00,880.00" fill="none" stroke="#1a1a1a" stroke-width="1.0"/>
<path d="M294.50,889.00 L297.00,885.00" fill="none" stroke="#1a1a1a" stroke-width="1.0"/>
<path d="M339.30,875.00 C338.97,872.17 339.72,869.08 341.00,867.00 C342.28,864.92 344.50,863.38 347.00,862.50 C349.50,861.62 353.00,861.62 356.00,861.70 C359.00,861.78 362.67,861.95 365.00,863.00 C367.33,864.05 368.95,865.83 370.00,868.00 C371.05,870.17 371.47,873.50 371.30,876.00 C371.13,878.50 370.55,881.05 369.00,883.00 C367.45,884.95 365.17,886.92 362.00,887.70 C358.83,888.48 353.17,888.32 350.00,887.70 C346.83,887.08 344.78,886.12 343.00,884.00 C341.22,881.88 339.63,877.83 339.30,875.00Z" fill="none" stroke="#1a1a1a" stroke-width="1.0" stroke-dasharray="3 1.2"/>
<path d="M341.90,876.00 C342.07,874.00 342.65,870.67 344.00,869.00 C345.35,867.33 347.67,866.50 350.00,866.00 C352.33,865.50 355.50,865.50 358.00,866.00 C360.50,866.50 363.50,867.33 365.00,869.00 C366.50,870.67 367.00,873.83 367.00,876.00 C367.00,878.17 366.50,880.33 365.00,882.00 C363.50,883.67 360.83,885.42 358.00,886.00 C355.17,886.58 350.50,886.33 348.00,885.50 C345.50,884.67 344.02,882.58 343.00,881.00 C341.98,879.42 341.73,878.00 341.90,876.00Z" fill="none" stroke="#1a1a1a" stroke-width="1.0"/>
<ellipse cx="352.30" cy="874.40" rx="1.30" ry="0.90" transform="rotate(0 352.30 874.40)" fill="#1a1a1a" stroke="#1a1a1a" stroke-width="0.8"/>
<polygon points="347.00,895.60 354.00,894.20 362.00,893.60 372.00,893.80 380.00,895.60" fill="#262626"/>
<path d="M342.00,894.00 C343.67,893.70 348.33,892.57 352.00,892.20 C355.67,891.83 360.33,891.77 364.00,891.80 C367.67,891.83 371.00,891.95 374.00,892.40 C377.00,892.85 380.67,894.15 382.00,894.50" fill="none" stroke="#1a1a1a" stroke-width="0.8" stroke-dasharray="3 1"/>
</g>
</svg></body></html>
